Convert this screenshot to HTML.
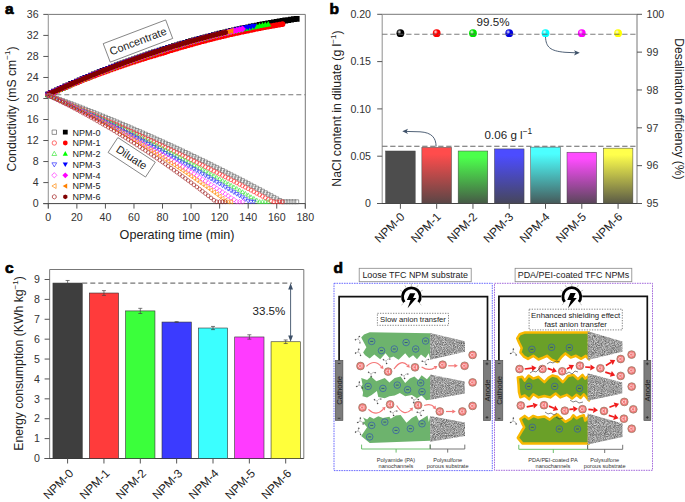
<!DOCTYPE html>
<html><head><meta charset="utf-8"><style>
html,body{margin:0;padding:0;background:#fff;width:685px;height:502px;overflow:hidden}
svg{display:block}
text{font-family:"Liberation Sans", sans-serif}
</style></head><body>
<svg width="685" height="502" viewBox="0 0 685 502">
<rect width="685" height="502" fill="#fff"/>
<text x="5" y="14.2" font-size="15.5" font-weight="bold" fill="#000" stroke="#000" stroke-width="0.7">a</text>
<path d="M48.3,14.4H305.3V208.6" fill="none" stroke="#777" stroke-width="1"/>
<path d="M48.3,14.4V208.6" fill="none" stroke="#999" stroke-width="1.1"/>
<path d="M43.3,203.6H305.3" fill="none" stroke="#444" stroke-width="1"/>
<path d="M43.3,203.60H48.3" stroke="#555" stroke-width="1"/>
<text x="38.6" y="207.30" font-size="10.6" text-anchor="end" fill="#333">0</text>
<path d="M43.3,182.58H48.3" stroke="#555" stroke-width="1"/>
<text x="38.6" y="186.28" font-size="10.6" text-anchor="end" fill="#333">4</text>
<path d="M43.3,161.56H48.3" stroke="#555" stroke-width="1"/>
<text x="38.6" y="165.26" font-size="10.6" text-anchor="end" fill="#333">8</text>
<path d="M43.3,140.53H48.3" stroke="#555" stroke-width="1"/>
<text x="38.6" y="144.23" font-size="10.6" text-anchor="end" fill="#333">12</text>
<path d="M43.3,119.51H48.3" stroke="#555" stroke-width="1"/>
<text x="38.6" y="123.21" font-size="10.6" text-anchor="end" fill="#333">16</text>
<path d="M43.3,98.49H48.3" stroke="#555" stroke-width="1"/>
<text x="38.6" y="102.19" font-size="10.6" text-anchor="end" fill="#333">20</text>
<path d="M43.3,77.47H48.3" stroke="#555" stroke-width="1"/>
<text x="38.6" y="81.17" font-size="10.6" text-anchor="end" fill="#333">24</text>
<path d="M43.3,56.44H48.3" stroke="#555" stroke-width="1"/>
<text x="38.6" y="60.14" font-size="10.6" text-anchor="end" fill="#333">28</text>
<path d="M43.3,35.42H48.3" stroke="#555" stroke-width="1"/>
<text x="38.6" y="39.12" font-size="10.6" text-anchor="end" fill="#333">32</text>
<path d="M43.3,14.40H48.3" stroke="#555" stroke-width="1"/>
<text x="38.6" y="18.10" font-size="10.6" text-anchor="end" fill="#333">36</text>
<path d="M48.30,203.6V208.6" stroke="#555" stroke-width="1"/>
<text x="48.30" y="221" font-size="10.6" text-anchor="middle" fill="#333">0</text>
<path d="M76.86,203.6V208.6" stroke="#555" stroke-width="1"/>
<text x="76.86" y="221" font-size="10.6" text-anchor="middle" fill="#333">20</text>
<path d="M105.41,203.6V208.6" stroke="#555" stroke-width="1"/>
<text x="105.41" y="221" font-size="10.6" text-anchor="middle" fill="#333">40</text>
<path d="M133.97,203.6V208.6" stroke="#555" stroke-width="1"/>
<text x="133.97" y="221" font-size="10.6" text-anchor="middle" fill="#333">60</text>
<path d="M162.52,203.6V208.6" stroke="#555" stroke-width="1"/>
<text x="162.52" y="221" font-size="10.6" text-anchor="middle" fill="#333">80</text>
<path d="M191.08,203.6V208.6" stroke="#555" stroke-width="1"/>
<text x="191.08" y="221" font-size="10.6" text-anchor="middle" fill="#333">100</text>
<path d="M219.63,203.6V208.6" stroke="#555" stroke-width="1"/>
<text x="219.63" y="221" font-size="10.6" text-anchor="middle" fill="#333">120</text>
<path d="M248.19,203.6V208.6" stroke="#555" stroke-width="1"/>
<text x="248.19" y="221" font-size="10.6" text-anchor="middle" fill="#333">140</text>
<path d="M276.74,203.6V208.6" stroke="#555" stroke-width="1"/>
<text x="276.74" y="221" font-size="10.6" text-anchor="middle" fill="#333">160</text>
<path d="M305.30,203.6V208.6" stroke="#555" stroke-width="1"/>
<text x="305.30" y="221" font-size="10.6" text-anchor="middle" fill="#333">180</text>
<text x="177" y="238.5" font-size="12.6" text-anchor="middle" fill="#222">Operating time (min)</text>
<text transform="translate(15.5,109) rotate(-90)" font-size="12.2" text-anchor="middle" fill="#222">Conductivity (mS cm<tspan font-size="8" dy="-5.2">&#8722;1</tspan><tspan dy="5.2">)</tspan></text>
<path d="M48.3,94.75H305.3" stroke="#777" stroke-width="1.2" stroke-dasharray="5,3"/>
<path d="M45.4,91.4h5.8v5.8h-5.8zM48.3,90.1h5.8v5.8h-5.8zM51.1,88.8h5.8v5.8h-5.8zM54.0,87.5h5.8v5.8h-5.8zM56.8,86.2h5.8v5.8h-5.8zM59.7,84.9h5.8v5.8h-5.8zM62.5,83.6h5.8v5.8h-5.8zM65.4,82.4h5.8v5.8h-5.8zM68.2,81.1h5.8v5.8h-5.8zM71.1,79.9h5.8v5.8h-5.8zM74.0,78.7h5.8v5.8h-5.8zM76.8,77.5h5.8v5.8h-5.8zM79.7,76.3h5.8v5.8h-5.8zM82.5,75.1h5.8v5.8h-5.8zM85.4,73.9h5.8v5.8h-5.8zM88.2,72.7h5.8v5.8h-5.8zM91.1,71.6h5.8v5.8h-5.8zM93.9,70.4h5.8v5.8h-5.8zM96.8,69.3h5.8v5.8h-5.8zM99.7,68.1h5.8v5.8h-5.8zM102.5,67.0h5.8v5.8h-5.8zM105.4,65.9h5.8v5.8h-5.8zM108.2,64.8h5.8v5.8h-5.8zM111.1,63.7h5.8v5.8h-5.8zM113.9,62.6h5.8v5.8h-5.8zM116.8,61.6h5.8v5.8h-5.8zM119.6,60.5h5.8v5.8h-5.8zM122.5,59.5h5.8v5.8h-5.8zM125.4,58.4h5.8v5.8h-5.8zM128.2,57.4h5.8v5.8h-5.8zM131.1,56.4h5.8v5.8h-5.8zM133.9,55.4h5.8v5.8h-5.8zM136.8,54.4h5.8v5.8h-5.8zM139.6,53.4h5.8v5.8h-5.8zM142.5,52.4h5.8v5.8h-5.8zM145.3,51.5h5.8v5.8h-5.8zM148.2,50.5h5.8v5.8h-5.8zM151.1,49.6h5.8v5.8h-5.8zM153.9,48.7h5.8v5.8h-5.8zM156.8,47.7h5.8v5.8h-5.8zM159.6,46.8h5.8v5.8h-5.8zM162.5,45.9h5.8v5.8h-5.8zM165.3,45.0h5.8v5.8h-5.8zM168.2,44.2h5.8v5.8h-5.8zM171.0,43.3h5.8v5.8h-5.8zM173.9,42.4h5.8v5.8h-5.8zM176.8,41.6h5.8v5.8h-5.8zM179.6,40.8h5.8v5.8h-5.8zM182.5,39.9h5.8v5.8h-5.8zM185.3,39.1h5.8v5.8h-5.8zM188.2,38.3h5.8v5.8h-5.8zM191.0,37.5h5.8v5.8h-5.8zM193.9,36.7h5.8v5.8h-5.8zM196.7,36.0h5.8v5.8h-5.8zM199.6,35.2h5.8v5.8h-5.8zM202.5,34.4h5.8v5.8h-5.8zM205.3,33.7h5.8v5.8h-5.8zM208.2,33.0h5.8v5.8h-5.8zM211.0,32.2h5.8v5.8h-5.8zM213.9,31.5h5.8v5.8h-5.8zM216.7,30.8h5.8v5.8h-5.8zM219.6,30.1h5.8v5.8h-5.8zM222.4,29.5h5.8v5.8h-5.8zM225.3,28.8h5.8v5.8h-5.8zM228.2,28.1h5.8v5.8h-5.8zM231.0,27.5h5.8v5.8h-5.8zM233.9,26.8h5.8v5.8h-5.8zM236.7,26.2h5.8v5.8h-5.8zM239.6,25.6h5.8v5.8h-5.8zM242.4,25.0h5.8v5.8h-5.8zM245.3,24.4h5.8v5.8h-5.8zM248.1,23.8h5.8v5.8h-5.8zM251.0,23.2h5.8v5.8h-5.8zM253.9,22.7h5.8v5.8h-5.8zM256.7,22.1h5.8v5.8h-5.8zM259.6,21.6h5.8v5.8h-5.8zM262.4,21.0h5.8v5.8h-5.8zM265.3,20.5h5.8v5.8h-5.8zM268.1,20.0h5.8v5.8h-5.8zM271.0,19.5h5.8v5.8h-5.8zM273.8,19.0h5.8v5.8h-5.8zM276.7,18.5h5.8v5.8h-5.8zM279.6,18.1h5.8v5.8h-5.8zM282.4,17.6h5.8v5.8h-5.8zM285.3,17.2h5.8v5.8h-5.8zM288.1,16.7h5.8v5.8h-5.8zM291.0,16.3h5.8v5.8h-5.8zM293.8,15.9h5.8v5.8h-5.8z" fill="#000000"/>
<path d="M45.4,94.3a2.9,2.9 0 1,0 5.8,0a2.9,2.9 0 1,0 -5.8,0zM48.3,93.0a2.9,2.9 0 1,0 5.8,0a2.9,2.9 0 1,0 -5.8,0zM51.1,91.8a2.9,2.9 0 1,0 5.8,0a2.9,2.9 0 1,0 -5.8,0zM54.0,90.6a2.9,2.9 0 1,0 5.8,0a2.9,2.9 0 1,0 -5.8,0zM56.8,89.4a2.9,2.9 0 1,0 5.8,0a2.9,2.9 0 1,0 -5.8,0zM59.7,88.2a2.9,2.9 0 1,0 5.8,0a2.9,2.9 0 1,0 -5.8,0zM62.5,87.0a2.9,2.9 0 1,0 5.8,0a2.9,2.9 0 1,0 -5.8,0zM65.4,85.8a2.9,2.9 0 1,0 5.8,0a2.9,2.9 0 1,0 -5.8,0zM68.2,84.7a2.9,2.9 0 1,0 5.8,0a2.9,2.9 0 1,0 -5.8,0zM71.1,83.5a2.9,2.9 0 1,0 5.8,0a2.9,2.9 0 1,0 -5.8,0zM74.0,82.4a2.9,2.9 0 1,0 5.8,0a2.9,2.9 0 1,0 -5.8,0zM76.8,81.2a2.9,2.9 0 1,0 5.8,0a2.9,2.9 0 1,0 -5.8,0zM79.7,80.1a2.9,2.9 0 1,0 5.8,0a2.9,2.9 0 1,0 -5.8,0zM82.5,79.0a2.9,2.9 0 1,0 5.8,0a2.9,2.9 0 1,0 -5.8,0zM85.4,77.9a2.9,2.9 0 1,0 5.8,0a2.9,2.9 0 1,0 -5.8,0zM88.2,76.8a2.9,2.9 0 1,0 5.8,0a2.9,2.9 0 1,0 -5.8,0zM91.1,75.7a2.9,2.9 0 1,0 5.8,0a2.9,2.9 0 1,0 -5.8,0zM93.9,74.6a2.9,2.9 0 1,0 5.8,0a2.9,2.9 0 1,0 -5.8,0zM96.8,73.6a2.9,2.9 0 1,0 5.8,0a2.9,2.9 0 1,0 -5.8,0zM99.7,72.5a2.9,2.9 0 1,0 5.8,0a2.9,2.9 0 1,0 -5.8,0zM102.5,71.5a2.9,2.9 0 1,0 5.8,0a2.9,2.9 0 1,0 -5.8,0zM105.4,70.5a2.9,2.9 0 1,0 5.8,0a2.9,2.9 0 1,0 -5.8,0zM108.2,69.4a2.9,2.9 0 1,0 5.8,0a2.9,2.9 0 1,0 -5.8,0zM111.1,68.4a2.9,2.9 0 1,0 5.8,0a2.9,2.9 0 1,0 -5.8,0zM113.9,67.4a2.9,2.9 0 1,0 5.8,0a2.9,2.9 0 1,0 -5.8,0zM116.8,66.4a2.9,2.9 0 1,0 5.8,0a2.9,2.9 0 1,0 -5.8,0zM119.6,65.5a2.9,2.9 0 1,0 5.8,0a2.9,2.9 0 1,0 -5.8,0zM122.5,64.5a2.9,2.9 0 1,0 5.8,0a2.9,2.9 0 1,0 -5.8,0zM125.4,63.5a2.9,2.9 0 1,0 5.8,0a2.9,2.9 0 1,0 -5.8,0zM128.2,62.6a2.9,2.9 0 1,0 5.8,0a2.9,2.9 0 1,0 -5.8,0zM131.1,61.7a2.9,2.9 0 1,0 5.8,0a2.9,2.9 0 1,0 -5.8,0zM133.9,60.7a2.9,2.9 0 1,0 5.8,0a2.9,2.9 0 1,0 -5.8,0zM136.8,59.8a2.9,2.9 0 1,0 5.8,0a2.9,2.9 0 1,0 -5.8,0zM139.6,58.9a2.9,2.9 0 1,0 5.8,0a2.9,2.9 0 1,0 -5.8,0zM142.5,58.0a2.9,2.9 0 1,0 5.8,0a2.9,2.9 0 1,0 -5.8,0zM145.3,57.1a2.9,2.9 0 1,0 5.8,0a2.9,2.9 0 1,0 -5.8,0zM148.2,56.3a2.9,2.9 0 1,0 5.8,0a2.9,2.9 0 1,0 -5.8,0zM151.1,55.4a2.9,2.9 0 1,0 5.8,0a2.9,2.9 0 1,0 -5.8,0zM153.9,54.6a2.9,2.9 0 1,0 5.8,0a2.9,2.9 0 1,0 -5.8,0zM156.8,53.7a2.9,2.9 0 1,0 5.8,0a2.9,2.9 0 1,0 -5.8,0zM159.6,52.9a2.9,2.9 0 1,0 5.8,0a2.9,2.9 0 1,0 -5.8,0zM162.5,52.0a2.9,2.9 0 1,0 5.8,0a2.9,2.9 0 1,0 -5.8,0zM165.3,51.1a2.9,2.9 0 1,0 5.8,0a2.9,2.9 0 1,0 -5.8,0zM168.2,50.2a2.9,2.9 0 1,0 5.8,0a2.9,2.9 0 1,0 -5.8,0zM171.0,49.3a2.9,2.9 0 1,0 5.8,0a2.9,2.9 0 1,0 -5.8,0zM173.9,48.5a2.9,2.9 0 1,0 5.8,0a2.9,2.9 0 1,0 -5.8,0zM176.8,47.6a2.9,2.9 0 1,0 5.8,0a2.9,2.9 0 1,0 -5.8,0zM179.6,46.8a2.9,2.9 0 1,0 5.8,0a2.9,2.9 0 1,0 -5.8,0zM182.5,46.0a2.9,2.9 0 1,0 5.8,0a2.9,2.9 0 1,0 -5.8,0zM185.3,45.2a2.9,2.9 0 1,0 5.8,0a2.9,2.9 0 1,0 -5.8,0zM188.2,44.4a2.9,2.9 0 1,0 5.8,0a2.9,2.9 0 1,0 -5.8,0zM191.0,43.6a2.9,2.9 0 1,0 5.8,0a2.9,2.9 0 1,0 -5.8,0zM193.9,42.8a2.9,2.9 0 1,0 5.8,0a2.9,2.9 0 1,0 -5.8,0zM196.7,42.0a2.9,2.9 0 1,0 5.8,0a2.9,2.9 0 1,0 -5.8,0zM199.6,41.2a2.9,2.9 0 1,0 5.8,0a2.9,2.9 0 1,0 -5.8,0zM202.5,40.5a2.9,2.9 0 1,0 5.8,0a2.9,2.9 0 1,0 -5.8,0zM205.3,39.7a2.9,2.9 0 1,0 5.8,0a2.9,2.9 0 1,0 -5.8,0zM208.2,39.0a2.9,2.9 0 1,0 5.8,0a2.9,2.9 0 1,0 -5.8,0zM211.0,38.3a2.9,2.9 0 1,0 5.8,0a2.9,2.9 0 1,0 -5.8,0zM213.9,37.6a2.9,2.9 0 1,0 5.8,0a2.9,2.9 0 1,0 -5.8,0zM216.7,36.9a2.9,2.9 0 1,0 5.8,0a2.9,2.9 0 1,0 -5.8,0zM219.6,36.2a2.9,2.9 0 1,0 5.8,0a2.9,2.9 0 1,0 -5.8,0zM222.4,35.5a2.9,2.9 0 1,0 5.8,0a2.9,2.9 0 1,0 -5.8,0zM225.3,34.8a2.9,2.9 0 1,0 5.8,0a2.9,2.9 0 1,0 -5.8,0zM228.2,34.2a2.9,2.9 0 1,0 5.8,0a2.9,2.9 0 1,0 -5.8,0zM231.0,33.5a2.9,2.9 0 1,0 5.8,0a2.9,2.9 0 1,0 -5.8,0zM233.9,32.9a2.9,2.9 0 1,0 5.8,0a2.9,2.9 0 1,0 -5.8,0zM236.7,32.3a2.9,2.9 0 1,0 5.8,0a2.9,2.9 0 1,0 -5.8,0zM239.6,31.7a2.9,2.9 0 1,0 5.8,0a2.9,2.9 0 1,0 -5.8,0zM242.4,31.0a2.9,2.9 0 1,0 5.8,0a2.9,2.9 0 1,0 -5.8,0zM245.3,30.5a2.9,2.9 0 1,0 5.8,0a2.9,2.9 0 1,0 -5.8,0zM248.1,29.9a2.9,2.9 0 1,0 5.8,0a2.9,2.9 0 1,0 -5.8,0zM251.0,29.3a2.9,2.9 0 1,0 5.8,0a2.9,2.9 0 1,0 -5.8,0zM253.9,28.7a2.9,2.9 0 1,0 5.8,0a2.9,2.9 0 1,0 -5.8,0zM256.7,28.2a2.9,2.9 0 1,0 5.8,0a2.9,2.9 0 1,0 -5.8,0zM259.6,27.6a2.9,2.9 0 1,0 5.8,0a2.9,2.9 0 1,0 -5.8,0zM262.4,27.1a2.9,2.9 0 1,0 5.8,0a2.9,2.9 0 1,0 -5.8,0zM265.3,26.6a2.9,2.9 0 1,0 5.8,0a2.9,2.9 0 1,0 -5.8,0zM268.1,26.1a2.9,2.9 0 1,0 5.8,0a2.9,2.9 0 1,0 -5.8,0zM271.0,25.6a2.9,2.9 0 1,0 5.8,0a2.9,2.9 0 1,0 -5.8,0zM273.8,25.1a2.9,2.9 0 1,0 5.8,0a2.9,2.9 0 1,0 -5.8,0zM276.7,24.6a2.9,2.9 0 1,0 5.8,0a2.9,2.9 0 1,0 -5.8,0zM279.6,24.1a2.9,2.9 0 1,0 5.8,0a2.9,2.9 0 1,0 -5.8,0z" fill="#ff0000"/>
<path d="M48.3,91.1L51.5,96.6H45.1zM51.2,89.8L54.3,95.3H48.0zM54.0,88.5L57.2,94.0H50.8zM56.9,87.2L60.1,92.7H53.7zM59.7,86.0L62.9,91.5H56.5zM62.6,84.7L65.8,90.2H59.4zM65.4,83.5L68.6,89.0H62.2zM68.3,82.2L71.5,87.7H65.1zM71.1,81.0L74.3,86.5H68.0zM74.0,79.8L77.2,85.3H70.8zM76.9,78.6L80.0,84.1H73.7zM79.7,77.4L82.9,82.9H76.5zM82.6,76.2L85.8,81.7H79.4zM85.4,75.0L88.6,80.5H82.2zM88.3,73.9L91.5,79.4H85.1zM91.1,72.7L94.3,78.2H87.9zM94.0,71.6L97.2,77.1H90.8zM96.8,70.4L100.0,76.0H93.7zM99.7,69.3L102.9,74.8H96.5zM102.6,68.2L105.7,73.7H99.4zM105.4,67.1L108.6,72.6H102.2zM108.3,66.0L111.5,71.5H105.1zM111.1,64.9L114.3,70.5H107.9zM114.0,63.9L117.2,69.4H110.8zM116.8,62.8L120.0,68.3H113.6zM119.7,61.8L122.9,67.3H116.5zM122.5,60.7L125.7,66.2H119.4zM125.4,59.7L128.6,65.2H122.2zM128.3,58.7L131.4,64.2H125.1zM131.1,57.7L134.3,63.2H127.9zM134.0,56.7L137.2,62.2H130.8zM136.8,55.7L140.0,61.2H133.6zM139.7,54.7L142.9,60.2H136.5zM142.5,53.8L145.7,59.3H139.3zM145.4,52.8L148.6,58.3H142.2zM148.2,51.9L151.4,57.4H145.1zM151.1,50.9L154.3,56.5H147.9zM154.0,50.0L157.1,55.5H150.8zM156.8,49.1L160.0,54.6H153.6zM159.7,48.2L162.9,53.7H156.5zM162.5,47.3L165.7,52.8H159.3zM165.4,46.4L168.6,51.9H162.2zM168.2,45.5L171.4,51.0H165.0zM171.1,44.7L174.3,50.2H167.9zM173.9,43.8L177.1,49.3H170.8zM176.8,42.9L180.0,48.4H173.6zM179.7,42.1L182.8,47.6H176.5zM182.5,41.2L185.7,46.8H179.3zM185.4,40.4L188.6,45.9H182.2zM188.2,39.6L191.4,45.1H185.0zM191.1,38.8L194.3,44.3H187.9zM193.9,38.0L197.1,43.5H190.7zM196.8,37.2L200.0,42.7H193.6zM199.6,36.4L202.8,42.0H196.5zM202.5,35.7L205.7,41.2H199.3zM205.4,34.9L208.5,40.4H202.2zM208.2,34.2L211.4,39.7H205.0zM211.1,33.5L214.3,39.0H207.9zM213.9,32.7L217.1,38.2H210.7zM216.8,32.0L220.0,37.5H213.6zM219.6,31.3L222.8,36.8H216.4zM222.5,30.6L225.7,36.1H219.3zM225.3,30.0L228.5,35.5H222.2zM228.2,29.3L231.4,34.8H225.0zM231.1,28.6L234.2,34.1H227.9zM233.9,28.0L237.1,33.5H230.7zM236.8,27.3L240.0,32.9H233.6zM239.6,26.7L242.8,32.2H236.4zM242.5,26.1L245.7,31.6H239.3zM245.3,25.5L248.5,31.0H242.1zM248.2,24.9L251.4,30.4H245.0zM251.0,24.3L254.2,29.8H247.9zM253.9,23.7L257.1,29.2H250.7zM256.8,23.2L259.9,28.7H253.6zM259.6,22.6L262.8,28.1H256.4zM262.5,22.1L265.7,27.6H259.3zM265.3,21.5L268.5,27.1H262.1zM268.2,21.0L271.4,26.5H265.0z" fill="#00ff00"/>
<path d="M48.3,97.5L51.5,92.0H45.1zM51.2,96.2L54.3,90.6H48.0zM54.0,94.8L57.2,89.3H50.8zM56.9,93.6L60.1,88.0H53.7zM59.7,92.3L62.9,86.8H56.5zM62.6,91.0L65.8,85.5H59.4zM65.4,89.7L68.6,84.2H62.2zM68.3,88.5L71.5,83.0H65.1zM71.1,87.2L74.3,81.7H68.0zM74.0,86.0L77.2,80.5H70.8zM76.9,84.8L80.0,79.3H73.7zM79.7,83.6L82.9,78.0H76.5zM82.6,82.3L85.8,76.8H79.4zM85.4,81.2L88.6,75.6H82.2zM88.3,80.0L91.5,74.5H85.1zM91.1,78.8L94.3,73.3H87.9zM94.0,77.6L97.2,72.1H90.8zM96.8,76.5L100.0,71.0H93.7zM99.7,75.4L102.9,69.8H96.5zM102.6,74.2L105.7,68.7H99.4zM105.4,73.1L108.6,67.6H102.2zM108.3,72.0L111.5,66.5H105.1zM111.1,70.9L114.3,65.4H107.9zM114.0,69.8L117.2,64.3H110.8zM116.8,68.7L120.0,63.2H113.6zM119.7,67.7L122.9,62.2H116.5zM122.5,66.6L125.7,61.1H119.4zM125.4,65.6L128.6,60.0H122.2zM128.3,64.5L131.4,59.0H125.1zM131.1,63.5L134.3,58.0H127.9zM134.0,62.5L137.2,57.0H130.8zM136.8,61.5L140.0,56.0H133.6zM139.7,60.5L142.9,55.0H136.5zM142.5,59.5L145.7,54.0H139.3zM145.4,58.5L148.6,53.0H142.2zM148.2,57.6L151.4,52.1H145.1zM151.1,56.6L154.3,51.1H147.9zM154.0,55.7L157.1,50.2H150.8zM156.8,54.7L160.0,49.2H153.6zM159.7,53.8L162.9,48.3H156.5zM162.5,52.9L165.7,47.4H159.3zM165.4,52.0L168.6,46.5H162.2zM168.2,51.1L171.4,45.6H165.0zM171.1,50.2L174.3,44.7H167.9zM173.9,49.4L177.1,43.9H170.8zM176.8,48.5L180.0,43.0H173.6zM179.7,47.7L182.8,42.2H176.5zM182.5,46.8L185.7,41.3H179.3zM185.4,46.0L188.6,40.5H182.2zM188.2,45.2L191.4,39.7H185.0zM191.1,44.4L194.3,38.9H187.9zM193.9,43.6L197.1,38.1H190.7zM196.8,42.8L200.0,37.3H193.6zM199.6,42.0L202.8,36.5H196.5zM202.5,41.3L205.7,35.8H199.3zM205.4,40.5L208.5,35.0H202.2zM208.2,39.8L211.4,34.3H205.0zM211.1,39.1L214.3,33.5H207.9zM213.9,38.3L217.1,32.8H210.7zM216.8,37.6L220.0,32.1H213.6zM219.6,36.9L222.8,31.4H216.4zM222.5,36.2L225.7,30.7H219.3zM225.3,35.5L228.5,30.0H222.2zM228.2,34.9L231.4,29.4H225.0zM231.1,34.2L234.2,28.7H227.9zM233.9,33.6L237.1,28.1H230.7zM236.8,32.9L240.0,27.4H233.6zM239.6,32.3L242.8,26.8H236.4zM242.5,31.7L245.7,26.2H239.3zM245.3,31.1L248.5,25.6H242.1zM248.2,30.5L251.4,25.0H245.0zM251.0,29.9L254.2,24.4H247.9zM253.9,29.3L257.1,23.8H250.7z" fill="#0000ff"/>
<path d="M48.3,90.8L51.8,94.3L48.3,97.8L44.8,94.3zM51.2,89.5L54.6,93.0L51.2,96.5L47.7,93.0zM54.0,88.2L57.5,91.7L54.0,95.2L50.5,91.7zM56.9,86.9L60.3,90.4L56.9,93.9L53.4,90.4zM59.7,85.6L63.2,89.1L59.7,92.6L56.2,89.1zM62.6,84.4L66.1,87.9L62.6,91.3L59.1,87.9zM65.4,83.1L68.9,86.6L65.4,90.1L62.0,86.6zM68.3,81.9L71.8,85.4L68.3,88.8L64.8,85.4zM71.1,80.7L74.6,84.1L71.1,87.6L67.7,84.1zM74.0,79.4L77.5,82.9L74.0,86.4L70.5,82.9zM76.9,78.2L80.3,81.7L76.9,85.2L73.4,81.7zM79.7,77.0L83.2,80.5L79.7,84.0L76.2,80.5zM82.6,75.8L86.0,79.3L82.6,82.8L79.1,79.3zM85.4,74.7L88.9,78.1L85.4,81.6L81.9,78.1zM88.3,73.5L91.8,77.0L88.3,80.4L84.8,77.0zM91.1,72.3L94.6,75.8L91.1,79.3L87.7,75.8zM94.0,71.2L97.5,74.7L94.0,78.1L90.5,74.7zM96.8,70.0L100.3,73.5L96.8,77.0L93.4,73.5zM99.7,68.9L103.2,72.4L99.7,75.9L96.2,72.4zM102.6,67.8L106.0,71.3L102.6,74.8L99.1,71.3zM105.4,66.7L108.9,70.2L105.4,73.7L101.9,70.2zM108.3,65.6L111.7,69.1L108.3,72.6L104.8,69.1zM111.1,64.5L114.6,68.0L111.1,71.5L107.6,68.0zM114.0,63.4L117.5,66.9L114.0,70.4L110.5,66.9zM116.8,62.4L120.3,65.9L116.8,69.3L113.4,65.9zM119.7,61.3L123.2,64.8L119.7,68.3L116.2,64.8zM122.5,60.3L126.0,63.8L122.5,67.2L119.1,63.8zM125.4,59.2L128.9,62.7L125.4,66.2L121.9,62.7zM128.3,58.2L131.7,61.7L128.3,65.2L124.8,61.7zM131.1,57.2L134.6,60.7L131.1,64.2L127.6,60.7zM134.0,56.2L137.4,59.7L134.0,63.2L130.5,59.7zM136.8,55.2L140.3,58.7L136.8,62.2L133.3,58.7zM139.7,54.2L143.2,57.7L139.7,61.2L136.2,57.7zM142.5,53.3L146.0,56.7L142.5,60.2L139.1,56.7zM145.4,52.3L148.9,55.8L145.4,59.3L141.9,55.8zM148.2,51.4L151.7,54.8L148.2,58.3L144.8,54.8zM151.1,50.4L154.6,53.9L151.1,57.4L147.6,53.9zM154.0,49.5L157.4,53.0L154.0,56.5L150.5,53.0zM156.8,48.6L160.3,52.1L156.8,55.5L153.3,52.1zM159.7,47.7L163.1,51.1L159.7,54.6L156.2,51.1zM162.5,46.8L166.0,50.3L162.5,53.7L159.0,50.3zM165.4,45.9L168.9,49.4L165.4,52.8L161.9,49.4zM168.2,45.0L171.7,48.5L168.2,51.9L164.8,48.5zM171.1,44.1L174.6,47.6L171.1,51.1L167.6,47.6zM173.9,43.2L177.4,46.7L173.9,50.2L170.5,46.7zM176.8,42.4L180.3,45.9L176.8,49.3L173.3,45.9zM179.7,41.5L183.1,45.0L179.7,48.5L176.2,45.0zM182.5,40.7L186.0,44.2L182.5,47.7L179.0,44.2zM185.4,39.9L188.8,43.3L185.4,46.8L181.9,43.3zM188.2,39.1L191.7,42.5L188.2,46.0L184.7,42.5zM191.1,38.2L194.6,41.7L191.1,45.2L187.6,41.7zM193.9,37.5L197.4,40.9L193.9,44.4L190.5,40.9zM196.8,36.7L200.3,40.2L196.8,43.6L193.3,40.2zM199.6,35.9L203.1,39.4L199.6,42.9L196.2,39.4zM202.5,35.1L206.0,38.6L202.5,42.1L199.0,38.6zM205.4,34.4L208.8,37.9L205.4,41.3L201.9,37.9zM208.2,33.6L211.7,37.1L208.2,40.6L204.7,37.1zM211.1,32.9L214.5,36.4L211.1,39.9L207.6,36.4zM213.9,32.2L217.4,35.7L213.9,39.1L210.4,35.7zM216.8,31.5L220.3,35.0L216.8,38.4L213.3,35.0zM219.6,30.8L223.1,34.3L219.6,37.7L216.2,34.3zM222.5,30.1L226.0,33.6L222.5,37.0L219.0,33.6zM225.3,29.4L228.8,32.9L225.3,36.4L221.9,32.9zM228.2,28.7L231.7,32.2L228.2,35.7L224.7,32.2zM231.1,28.1L234.5,31.6L231.1,35.0L227.6,31.6zM233.9,27.4L237.4,30.9L233.9,34.4L230.4,30.9zM236.8,26.8L240.2,30.3L236.8,33.8L233.3,30.3zM239.6,26.2L243.1,29.6L239.6,33.1L236.1,29.6zM242.5,25.5L246.0,29.0L242.5,32.5L239.0,29.0z" fill="#ff00ff"/>
<path d="M45.1,94.3L50.6,91.1V97.5zM48.0,93.0L53.5,89.8V96.2zM50.8,91.7L56.3,88.5V94.8zM53.7,90.4L59.2,87.2V93.6zM56.5,89.1L62.0,85.9V92.3zM59.4,87.8L64.9,84.6V91.0zM62.2,86.5L67.8,83.3V89.7zM65.1,85.3L70.6,82.1V88.5zM68.0,84.0L73.5,80.8V87.2zM70.8,82.8L76.3,79.6V86.0zM73.7,81.6L79.2,78.4V84.8zM76.5,80.4L82.0,77.2V83.6zM79.4,79.2L84.9,76.0V82.3zM82.2,78.0L87.7,74.8V81.2zM85.1,76.8L90.6,73.6V80.0zM87.9,75.6L93.5,72.4V78.8zM90.8,74.5L96.3,71.3V77.6zM93.7,73.3L99.2,70.1V76.5zM96.5,72.2L102.0,69.0V75.4zM99.4,71.0L104.9,67.8V74.2zM102.2,69.9L107.7,66.7V73.1zM105.1,68.8L110.6,65.6V72.0zM107.9,67.7L113.4,64.5V70.9zM110.8,66.6L116.3,63.4V69.8zM113.6,65.5L119.2,62.3V68.7zM116.5,64.5L122.0,61.3V67.7zM119.4,63.4L124.9,60.2V66.6zM122.2,62.4L127.7,59.2V65.6zM125.1,61.3L130.6,58.1V64.5zM127.9,60.3L133.4,57.1V63.5zM130.8,59.3L136.3,56.1V62.5zM133.6,58.3L139.1,55.1V61.5zM136.5,57.3L142.0,54.1V60.5zM139.3,56.3L144.9,53.1V59.5zM142.2,55.3L147.7,52.2V58.5zM145.1,54.4L150.6,51.2V57.6zM147.9,53.4L153.4,50.2V56.6zM150.8,52.5L156.3,49.3V55.7zM153.6,51.6L159.1,48.4V54.7zM156.5,50.6L162.0,47.4V53.8zM159.3,49.7L164.8,46.5V52.9zM162.2,48.8L167.7,45.6V52.0zM165.0,47.9L170.6,44.7V51.1zM167.9,47.1L173.4,43.9V50.2zM170.8,46.2L176.3,43.0V49.4zM173.6,45.3L179.1,42.1V48.5zM176.5,44.5L182.0,41.3V47.7zM179.3,43.7L184.8,40.5V46.8zM182.2,42.8L187.7,39.6V46.0zM185.0,42.0L190.5,38.8V45.2zM187.9,41.2L193.4,38.0V44.4zM190.7,40.4L196.3,37.2V43.6zM193.6,39.6L199.1,36.4V42.8zM196.5,38.9L202.0,35.7V42.0zM199.3,38.1L204.8,34.9V41.3zM202.2,37.3L207.7,34.1V40.5zM205.0,36.6L210.5,33.4V39.8zM207.9,35.9L213.4,32.7V39.1zM210.7,35.1L216.2,31.9V38.3zM213.6,34.4L219.1,31.2V37.6zM216.4,33.7L222.0,30.5V36.9zM219.3,33.0L224.8,29.8V36.2zM222.2,32.4L227.7,29.2V35.5zM225.0,31.7L230.5,28.5V34.9zM227.9,31.0L233.4,27.8V34.2z" fill="#ff8000"/>
<path d="M50.8,95.7L48.3,97.2L45.8,95.7L45.8,92.8L48.3,91.4L50.8,92.8zM53.7,94.4L51.2,95.9L48.6,94.4L48.6,91.5L51.2,90.1L53.7,91.5zM56.5,93.1L54.0,94.6L51.5,93.1L51.5,90.2L54.0,88.8L56.5,90.2zM59.4,91.8L56.9,93.3L54.4,91.8L54.4,88.9L56.9,87.5L59.4,88.9zM62.2,90.5L59.7,92.0L57.2,90.5L57.2,87.6L59.7,86.2L62.2,87.6zM65.1,89.2L62.6,90.7L60.1,89.2L60.1,86.3L62.6,84.9L65.1,86.3zM67.9,88.0L65.4,89.4L62.9,88.0L62.9,85.1L65.4,83.6L67.9,85.1zM70.8,86.7L68.3,88.2L65.8,86.7L65.8,83.8L68.3,82.4L70.8,83.8zM73.7,85.5L71.1,86.9L68.6,85.5L68.6,82.6L71.1,81.1L73.7,82.6zM76.5,84.2L74.0,85.7L71.5,84.2L71.5,81.3L74.0,79.9L76.5,81.3zM79.4,83.0L76.9,84.5L74.3,83.0L74.3,80.1L76.9,78.7L79.4,80.1zM82.2,81.8L79.7,83.3L77.2,81.8L77.2,78.9L79.7,77.5L82.2,78.9zM85.1,80.6L82.6,82.1L80.1,80.6L80.1,77.7L82.6,76.3L85.1,77.7zM87.9,79.4L85.4,80.9L82.9,79.4L82.9,76.5L85.4,75.1L87.9,76.5zM90.8,78.2L88.3,79.7L85.8,78.2L85.8,75.3L88.3,73.9L90.8,75.3zM93.6,77.1L91.1,78.5L88.6,77.1L88.6,74.2L91.1,72.7L93.6,74.2zM96.5,75.9L94.0,77.4L91.5,75.9L91.5,73.0L94.0,71.6L96.5,73.0zM99.4,74.8L96.8,76.2L94.3,74.8L94.3,71.9L96.8,70.4L99.4,71.9zM102.2,73.6L99.7,75.1L97.2,73.6L97.2,70.7L99.7,69.3L102.2,70.7zM105.1,72.5L102.6,73.9L100.0,72.5L100.0,69.6L102.6,68.1L105.1,69.6zM107.9,71.4L105.4,72.8L102.9,71.4L102.9,68.5L105.4,67.0L107.9,68.5zM110.8,70.3L108.3,71.7L105.8,70.3L105.8,67.4L108.3,65.9L110.8,67.4zM113.6,69.2L111.1,70.6L108.6,69.2L108.6,66.3L111.1,64.8L113.6,66.3zM116.5,68.1L114.0,69.5L111.5,68.1L111.5,65.2L114.0,63.7L116.5,65.2zM119.3,67.0L116.8,68.4L114.3,67.0L114.3,64.1L116.8,62.6L119.3,64.1zM122.2,65.9L119.7,67.4L117.2,65.9L117.2,63.0L119.7,61.6L122.2,63.0zM125.1,64.9L122.5,66.3L120.0,64.9L120.0,62.0L122.5,60.5L125.1,62.0zM127.9,63.8L125.4,65.3L122.9,63.8L122.9,60.9L125.4,59.5L127.9,60.9zM130.8,62.8L128.3,64.2L125.7,62.8L125.7,59.9L128.3,58.4L130.8,59.9zM133.6,61.8L131.1,63.2L128.6,61.8L128.6,58.9L131.1,57.4L133.6,58.9zM136.5,60.7L134.0,62.2L131.5,60.7L131.5,57.8L134.0,56.4L136.5,57.8zM139.3,59.7L136.8,61.2L134.3,59.7L134.3,56.8L136.8,55.4L139.3,56.8zM142.2,58.7L139.7,60.2L137.2,58.7L137.2,55.8L139.7,54.4L142.2,55.8zM145.0,57.8L142.5,59.2L140.0,57.8L140.0,54.9L142.5,53.4L145.0,54.9zM147.9,56.8L145.4,58.2L142.9,56.8L142.9,53.9L145.4,52.4L147.9,53.9zM150.8,55.8L148.2,57.3L145.7,55.8L145.7,52.9L148.2,51.5L150.8,52.9zM153.6,54.9L151.1,56.3L148.6,54.9L148.6,52.0L151.1,50.5L153.6,52.0zM156.5,53.9L154.0,55.4L151.4,53.9L151.4,51.0L154.0,49.6L156.5,51.0zM159.3,53.0L156.8,54.5L154.3,53.0L154.3,50.1L156.8,48.7L159.3,50.1zM162.2,52.1L159.7,53.5L157.2,52.1L157.2,49.2L159.7,47.7L162.2,49.2zM165.0,51.2L162.5,52.6L160.0,51.2L160.0,48.3L162.5,46.8L165.0,48.3zM167.9,50.3L165.4,51.7L162.9,50.3L162.9,47.4L165.4,45.9L167.9,47.4zM170.7,49.4L168.2,50.8L165.7,49.4L165.7,46.5L168.2,45.0L170.7,46.5zM173.6,48.5L171.1,50.0L168.6,48.5L168.6,45.6L171.1,44.2L173.6,45.6zM176.5,47.6L173.9,49.1L171.4,47.6L171.4,44.7L173.9,43.3L176.5,44.7zM179.3,46.8L176.8,48.2L174.3,46.8L174.3,43.9L176.8,42.4L179.3,43.9zM182.2,45.9L179.7,47.4L177.1,45.9L177.1,43.0L179.7,41.6L182.2,43.0zM185.0,45.1L182.5,46.6L180.0,45.1L180.0,42.2L182.5,40.8L185.0,42.2zM187.9,44.3L185.4,45.7L182.9,44.3L182.9,41.4L185.4,39.9L187.9,41.4zM190.7,43.5L188.2,44.9L185.7,43.5L185.7,40.6L188.2,39.1L190.7,40.6zM193.6,42.7L191.1,44.1L188.6,42.7L188.6,39.8L191.1,38.3L193.6,39.8zM196.4,41.9L193.9,43.3L191.4,41.9L191.4,39.0L193.9,37.5L196.4,39.0zM199.3,41.1L196.8,42.5L194.3,41.1L194.3,38.2L196.8,36.7L199.3,38.2zM202.2,40.3L199.6,41.8L197.1,40.3L197.1,37.4L199.6,36.0L202.2,37.4zM205.0,39.5L202.5,41.0L200.0,39.5L200.0,36.6L202.5,35.2L205.0,36.6zM207.9,38.8L205.4,40.2L202.8,38.8L202.8,35.9L205.4,34.4L207.9,35.9zM210.7,38.0L208.2,39.5L205.7,38.0L205.7,35.1L208.2,33.7L210.7,35.1zM213.6,37.3L211.1,38.8L208.6,37.3L208.6,34.4L211.1,33.0L213.6,34.4zM216.4,36.6L213.9,38.0L211.4,36.6L211.4,33.7L213.9,32.2L216.4,33.7zM219.3,35.9L216.8,37.3L214.3,35.9L214.3,33.0L216.8,31.5L219.3,33.0zM222.1,35.2L219.6,36.6L217.1,35.2L217.1,32.3L219.6,30.8L222.1,32.3zM225.0,34.5L222.5,35.9L220.0,34.5L220.0,31.6L222.5,30.1L225.0,31.6zM227.9,33.8L225.3,35.3L222.8,33.8L222.8,30.9L225.3,29.5L227.9,30.9z" fill="#800000"/>
<path d="M46.3,93.4h3.9v3.9h-3.9zM49.2,94.4h3.9v3.9h-3.9zM52.1,95.5h3.9v3.9h-3.9zM54.9,96.5h3.9v3.9h-3.9zM57.8,97.6h3.9v3.9h-3.9zM60.6,98.6h3.9v3.9h-3.9zM63.5,99.7h3.9v3.9h-3.9zM66.3,100.8h3.9v3.9h-3.9zM69.2,101.8h3.9v3.9h-3.9zM72.0,102.9h3.9v3.9h-3.9zM74.9,104.0h3.9v3.9h-3.9zM77.8,105.1h3.9v3.9h-3.9zM80.6,106.2h3.9v3.9h-3.9zM83.5,107.3h3.9v3.9h-3.9zM86.3,108.5h3.9v3.9h-3.9zM89.2,109.6h3.9v3.9h-3.9zM92.0,110.7h3.9v3.9h-3.9zM94.9,111.9h3.9v3.9h-3.9zM97.7,113.0h3.9v3.9h-3.9zM100.6,114.2h3.9v3.9h-3.9zM103.5,115.3h3.9v3.9h-3.9zM106.3,116.5h3.9v3.9h-3.9zM109.2,117.7h3.9v3.9h-3.9zM112.0,118.8h3.9v3.9h-3.9zM114.9,120.0h3.9v3.9h-3.9zM117.7,121.2h3.9v3.9h-3.9zM120.6,122.4h3.9v3.9h-3.9zM123.4,123.6h3.9v3.9h-3.9zM126.3,124.8h3.9v3.9h-3.9zM129.2,126.0h3.9v3.9h-3.9zM132.0,127.3h3.9v3.9h-3.9zM134.9,128.5h3.9v3.9h-3.9zM137.7,129.7h3.9v3.9h-3.9zM140.6,131.0h3.9v3.9h-3.9zM143.4,132.2h3.9v3.9h-3.9zM146.3,133.5h3.9v3.9h-3.9zM149.2,134.8h3.9v3.9h-3.9zM152.0,136.0h3.9v3.9h-3.9zM154.9,137.3h3.9v3.9h-3.9zM157.7,138.6h3.9v3.9h-3.9zM160.6,139.9h3.9v3.9h-3.9zM163.4,141.2h3.9v3.9h-3.9zM166.3,142.5h3.9v3.9h-3.9zM169.1,143.8h3.9v3.9h-3.9zM172.0,145.1h3.9v3.9h-3.9zM174.9,146.4h3.9v3.9h-3.9zM177.7,147.8h3.9v3.9h-3.9zM180.6,149.1h3.9v3.9h-3.9zM183.4,150.5h3.9v3.9h-3.9zM186.3,151.8h3.9v3.9h-3.9zM189.1,153.2h3.9v3.9h-3.9zM192.0,154.5h3.9v3.9h-3.9zM194.8,155.9h3.9v3.9h-3.9zM197.7,157.3h3.9v3.9h-3.9zM200.6,158.7h3.9v3.9h-3.9zM203.4,160.0h3.9v3.9h-3.9zM206.3,161.4h3.9v3.9h-3.9zM209.1,162.8h3.9v3.9h-3.9zM212.0,164.3h3.9v3.9h-3.9zM214.8,165.7h3.9v3.9h-3.9zM217.7,167.1h3.9v3.9h-3.9zM220.5,168.5h3.9v3.9h-3.9zM223.4,170.0h3.9v3.9h-3.9zM226.2,171.4h3.9v3.9h-3.9zM229.1,172.9h3.9v3.9h-3.9zM232.0,174.3h3.9v3.9h-3.9zM234.8,175.8h3.9v3.9h-3.9zM237.7,177.2h3.9v3.9h-3.9zM240.5,178.7h3.9v3.9h-3.9zM243.4,180.2h3.9v3.9h-3.9zM246.2,181.7h3.9v3.9h-3.9zM249.1,183.2h3.9v3.9h-3.9zM251.9,184.7h3.9v3.9h-3.9zM254.8,186.2h3.9v3.9h-3.9zM257.7,187.7h3.9v3.9h-3.9zM260.5,189.2h3.9v3.9h-3.9zM263.4,190.8h3.9v3.9h-3.9zM266.2,192.3h3.9v3.9h-3.9zM269.1,193.8h3.9v3.9h-3.9zM271.9,195.4h3.9v3.9h-3.9zM274.8,196.9h3.9v3.9h-3.9zM277.7,198.5h3.9v3.9h-3.9zM280.5,199.8h3.9v3.9h-3.9zM283.4,199.8h3.9v3.9h-3.9zM286.2,199.8h3.9v3.9h-3.9zM289.1,199.8h3.9v3.9h-3.9zM291.9,199.8h3.9v3.9h-3.9zM294.8,199.8h3.9v3.9h-3.9z" fill="none" stroke="#666666" stroke-width="0.65"/>
<path d="M46.3,95.3a1.9,1.9 0 1,0 3.9,0a1.9,1.9 0 1,0 -3.9,0zM49.2,96.5a1.9,1.9 0 1,0 3.9,0a1.9,1.9 0 1,0 -3.9,0zM52.1,97.7a1.9,1.9 0 1,0 3.9,0a1.9,1.9 0 1,0 -3.9,0zM54.9,98.9a1.9,1.9 0 1,0 3.9,0a1.9,1.9 0 1,0 -3.9,0zM57.8,100.0a1.9,1.9 0 1,0 3.9,0a1.9,1.9 0 1,0 -3.9,0zM60.6,101.2a1.9,1.9 0 1,0 3.9,0a1.9,1.9 0 1,0 -3.9,0zM63.5,102.4a1.9,1.9 0 1,0 3.9,0a1.9,1.9 0 1,0 -3.9,0zM66.3,103.6a1.9,1.9 0 1,0 3.9,0a1.9,1.9 0 1,0 -3.9,0zM69.2,104.8a1.9,1.9 0 1,0 3.9,0a1.9,1.9 0 1,0 -3.9,0zM72.0,106.0a1.9,1.9 0 1,0 3.9,0a1.9,1.9 0 1,0 -3.9,0zM74.9,107.2a1.9,1.9 0 1,0 3.9,0a1.9,1.9 0 1,0 -3.9,0zM77.8,108.5a1.9,1.9 0 1,0 3.9,0a1.9,1.9 0 1,0 -3.9,0zM80.6,109.7a1.9,1.9 0 1,0 3.9,0a1.9,1.9 0 1,0 -3.9,0zM83.5,110.9a1.9,1.9 0 1,0 3.9,0a1.9,1.9 0 1,0 -3.9,0zM86.3,112.1a1.9,1.9 0 1,0 3.9,0a1.9,1.9 0 1,0 -3.9,0zM89.2,113.4a1.9,1.9 0 1,0 3.9,0a1.9,1.9 0 1,0 -3.9,0zM92.0,114.6a1.9,1.9 0 1,0 3.9,0a1.9,1.9 0 1,0 -3.9,0zM94.9,115.9a1.9,1.9 0 1,0 3.9,0a1.9,1.9 0 1,0 -3.9,0zM97.7,117.1a1.9,1.9 0 1,0 3.9,0a1.9,1.9 0 1,0 -3.9,0zM100.6,118.4a1.9,1.9 0 1,0 3.9,0a1.9,1.9 0 1,0 -3.9,0zM103.5,119.6a1.9,1.9 0 1,0 3.9,0a1.9,1.9 0 1,0 -3.9,0zM106.3,120.9a1.9,1.9 0 1,0 3.9,0a1.9,1.9 0 1,0 -3.9,0zM109.2,122.2a1.9,1.9 0 1,0 3.9,0a1.9,1.9 0 1,0 -3.9,0zM112.0,123.4a1.9,1.9 0 1,0 3.9,0a1.9,1.9 0 1,0 -3.9,0zM114.9,124.7a1.9,1.9 0 1,0 3.9,0a1.9,1.9 0 1,0 -3.9,0zM117.7,126.0a1.9,1.9 0 1,0 3.9,0a1.9,1.9 0 1,0 -3.9,0zM120.6,127.3a1.9,1.9 0 1,0 3.9,0a1.9,1.9 0 1,0 -3.9,0zM123.4,128.6a1.9,1.9 0 1,0 3.9,0a1.9,1.9 0 1,0 -3.9,0zM126.3,129.9a1.9,1.9 0 1,0 3.9,0a1.9,1.9 0 1,0 -3.9,0zM129.2,131.2a1.9,1.9 0 1,0 3.9,0a1.9,1.9 0 1,0 -3.9,0zM132.0,132.5a1.9,1.9 0 1,0 3.9,0a1.9,1.9 0 1,0 -3.9,0zM134.9,133.8a1.9,1.9 0 1,0 3.9,0a1.9,1.9 0 1,0 -3.9,0zM137.7,135.1a1.9,1.9 0 1,0 3.9,0a1.9,1.9 0 1,0 -3.9,0zM140.6,136.5a1.9,1.9 0 1,0 3.9,0a1.9,1.9 0 1,0 -3.9,0zM143.4,137.8a1.9,1.9 0 1,0 3.9,0a1.9,1.9 0 1,0 -3.9,0zM146.3,139.1a1.9,1.9 0 1,0 3.9,0a1.9,1.9 0 1,0 -3.9,0zM149.2,140.5a1.9,1.9 0 1,0 3.9,0a1.9,1.9 0 1,0 -3.9,0zM152.0,141.8a1.9,1.9 0 1,0 3.9,0a1.9,1.9 0 1,0 -3.9,0zM154.9,143.1a1.9,1.9 0 1,0 3.9,0a1.9,1.9 0 1,0 -3.9,0zM157.7,144.5a1.9,1.9 0 1,0 3.9,0a1.9,1.9 0 1,0 -3.9,0zM160.6,145.8a1.9,1.9 0 1,0 3.9,0a1.9,1.9 0 1,0 -3.9,0zM163.4,147.2a1.9,1.9 0 1,0 3.9,0a1.9,1.9 0 1,0 -3.9,0zM166.3,148.6a1.9,1.9 0 1,0 3.9,0a1.9,1.9 0 1,0 -3.9,0zM169.1,149.9a1.9,1.9 0 1,0 3.9,0a1.9,1.9 0 1,0 -3.9,0zM172.0,151.3a1.9,1.9 0 1,0 3.9,0a1.9,1.9 0 1,0 -3.9,0zM174.9,152.7a1.9,1.9 0 1,0 3.9,0a1.9,1.9 0 1,0 -3.9,0zM177.7,154.1a1.9,1.9 0 1,0 3.9,0a1.9,1.9 0 1,0 -3.9,0zM180.6,155.5a1.9,1.9 0 1,0 3.9,0a1.9,1.9 0 1,0 -3.9,0zM183.4,156.9a1.9,1.9 0 1,0 3.9,0a1.9,1.9 0 1,0 -3.9,0zM186.3,158.3a1.9,1.9 0 1,0 3.9,0a1.9,1.9 0 1,0 -3.9,0zM189.1,159.7a1.9,1.9 0 1,0 3.9,0a1.9,1.9 0 1,0 -3.9,0zM192.0,161.1a1.9,1.9 0 1,0 3.9,0a1.9,1.9 0 1,0 -3.9,0zM194.8,162.5a1.9,1.9 0 1,0 3.9,0a1.9,1.9 0 1,0 -3.9,0zM197.7,163.9a1.9,1.9 0 1,0 3.9,0a1.9,1.9 0 1,0 -3.9,0zM200.6,165.3a1.9,1.9 0 1,0 3.9,0a1.9,1.9 0 1,0 -3.9,0zM203.4,166.8a1.9,1.9 0 1,0 3.9,0a1.9,1.9 0 1,0 -3.9,0zM206.3,168.2a1.9,1.9 0 1,0 3.9,0a1.9,1.9 0 1,0 -3.9,0zM209.1,169.6a1.9,1.9 0 1,0 3.9,0a1.9,1.9 0 1,0 -3.9,0zM212.0,171.1a1.9,1.9 0 1,0 3.9,0a1.9,1.9 0 1,0 -3.9,0zM214.8,172.5a1.9,1.9 0 1,0 3.9,0a1.9,1.9 0 1,0 -3.9,0zM217.7,174.0a1.9,1.9 0 1,0 3.9,0a1.9,1.9 0 1,0 -3.9,0zM220.5,175.4a1.9,1.9 0 1,0 3.9,0a1.9,1.9 0 1,0 -3.9,0zM223.4,176.9a1.9,1.9 0 1,0 3.9,0a1.9,1.9 0 1,0 -3.9,0zM226.2,178.3a1.9,1.9 0 1,0 3.9,0a1.9,1.9 0 1,0 -3.9,0zM229.1,179.8a1.9,1.9 0 1,0 3.9,0a1.9,1.9 0 1,0 -3.9,0zM232.0,181.3a1.9,1.9 0 1,0 3.9,0a1.9,1.9 0 1,0 -3.9,0zM234.8,182.8a1.9,1.9 0 1,0 3.9,0a1.9,1.9 0 1,0 -3.9,0zM237.7,184.3a1.9,1.9 0 1,0 3.9,0a1.9,1.9 0 1,0 -3.9,0zM240.5,185.7a1.9,1.9 0 1,0 3.9,0a1.9,1.9 0 1,0 -3.9,0zM243.4,187.2a1.9,1.9 0 1,0 3.9,0a1.9,1.9 0 1,0 -3.9,0zM246.2,188.7a1.9,1.9 0 1,0 3.9,0a1.9,1.9 0 1,0 -3.9,0zM249.1,190.2a1.9,1.9 0 1,0 3.9,0a1.9,1.9 0 1,0 -3.9,0zM251.9,191.7a1.9,1.9 0 1,0 3.9,0a1.9,1.9 0 1,0 -3.9,0zM254.8,193.3a1.9,1.9 0 1,0 3.9,0a1.9,1.9 0 1,0 -3.9,0zM257.7,194.8a1.9,1.9 0 1,0 3.9,0a1.9,1.9 0 1,0 -3.9,0zM260.5,196.3a1.9,1.9 0 1,0 3.9,0a1.9,1.9 0 1,0 -3.9,0zM263.4,197.8a1.9,1.9 0 1,0 3.9,0a1.9,1.9 0 1,0 -3.9,0zM266.2,199.4a1.9,1.9 0 1,0 3.9,0a1.9,1.9 0 1,0 -3.9,0zM269.1,200.9a1.9,1.9 0 1,0 3.9,0a1.9,1.9 0 1,0 -3.9,0zM271.9,201.8a1.9,1.9 0 1,0 3.9,0a1.9,1.9 0 1,0 -3.9,0zM274.8,201.8a1.9,1.9 0 1,0 3.9,0a1.9,1.9 0 1,0 -3.9,0zM277.7,201.8a1.9,1.9 0 1,0 3.9,0a1.9,1.9 0 1,0 -3.9,0zM280.5,201.8a1.9,1.9 0 1,0 3.9,0a1.9,1.9 0 1,0 -3.9,0z" fill="none" stroke="#ff3030" stroke-width="0.65"/>
<path d="M48.3,93.2L50.4,96.9H46.2zM51.2,94.4L53.3,98.1H49.0zM54.0,95.6L56.2,99.3H51.9zM56.9,96.8L59.0,100.5H54.7zM59.7,98.0L61.9,101.7H57.6zM62.6,99.3L64.7,103.0H60.4zM65.4,100.5L67.6,104.2H63.3zM68.3,101.7L70.4,105.4H66.1zM71.1,103.0L73.3,106.7H69.0zM74.0,104.2L76.1,107.9H71.9zM76.9,105.5L79.0,109.2H74.7zM79.7,106.8L81.9,110.5H77.6zM82.6,108.0L84.7,111.7H80.4zM85.4,109.3L87.6,113.0H83.3zM88.3,110.6L90.4,114.3H86.1zM91.1,111.9L93.3,115.6H89.0zM94.0,113.2L96.1,116.9H91.8zM96.8,114.5L99.0,118.2H94.7zM99.7,115.8L101.8,119.5H97.6zM102.6,117.1L104.7,120.8H100.4zM105.4,118.5L107.6,122.2H103.3zM108.3,119.8L110.4,123.5H106.1zM111.1,121.1L113.3,124.8H109.0zM114.0,122.5L116.1,126.2H111.8zM116.8,123.8L119.0,127.5H114.7zM119.7,125.2L121.8,128.9H117.5zM122.5,126.6L124.7,130.3H120.4zM125.4,127.9L127.5,131.6H123.3zM128.3,129.3L130.4,133.0H126.1zM131.1,130.7L133.3,134.4H129.0zM134.0,132.1L136.1,135.8H131.8zM136.8,133.5L139.0,137.2H134.7zM139.7,134.9L141.8,138.6H137.5zM142.5,136.3L144.7,140.0H140.4zM145.4,137.7L147.5,141.4H143.2zM148.2,139.1L150.4,142.8H146.1zM151.1,140.6L153.2,144.3H149.0zM154.0,142.0L156.1,145.7H151.8zM156.8,143.4L159.0,147.1H154.7zM159.7,144.9L161.8,148.6H157.5zM162.5,146.4L164.7,150.1H160.4zM165.4,147.8L167.5,151.5H163.2zM168.2,149.3L170.4,153.0H166.1zM171.1,150.8L173.2,154.5H168.9zM173.9,152.2L176.1,155.9H171.8zM176.8,153.7L178.9,157.4H174.7zM179.7,155.2L181.8,158.9H177.5zM182.5,156.7L184.7,160.4H180.4zM185.4,158.2L187.5,161.9H183.2zM188.2,159.8L190.4,163.5H186.1zM191.1,161.3L193.2,165.0H188.9zM193.9,162.8L196.1,166.5H191.8zM196.8,164.3L198.9,168.0H194.6zM199.6,165.9L201.8,169.6H197.5zM202.5,167.4L204.6,171.1H200.4zM205.4,169.0L207.5,172.7H203.2zM208.2,170.5L210.4,174.3H206.1zM211.1,172.1L213.2,175.8H208.9zM213.9,173.7L216.1,177.4H211.8zM216.8,175.3L218.9,179.0H214.6zM219.6,176.9L221.8,180.6H217.5zM222.5,178.5L224.6,182.2H220.3zM225.3,180.1L227.5,183.8H223.2zM228.2,181.7L230.3,185.4H226.1zM231.1,183.3L233.2,187.0H228.9zM233.9,184.9L236.1,188.6H231.8zM236.8,186.5L238.9,190.2H234.6zM239.6,188.2L241.8,191.9H237.5zM242.5,189.8L244.6,193.5H240.3zM245.3,191.4L247.5,195.1H243.2zM248.2,193.1L250.3,196.8H246.0zM251.0,194.8L253.2,198.5H248.9zM253.9,196.4L256.0,200.1H251.8zM256.8,198.1L258.9,201.8H254.6zM259.6,199.6L261.8,203.3H257.5zM262.5,199.6L264.6,203.3H260.3zM265.3,199.6L267.5,203.3H263.2zM268.2,199.6L270.3,203.3H266.0z" fill="none" stroke="#40e840" stroke-width="0.65"/>
<path d="M48.3,97.5L50.4,93.8H46.2zM51.2,98.8L53.3,95.1H49.0zM54.0,100.0L56.2,96.3H51.9zM56.9,101.3L59.0,97.6H54.7zM59.7,102.6L61.9,98.9H57.6zM62.6,103.9L64.7,100.2H60.4zM65.4,105.2L67.6,101.5H63.3zM68.3,106.6L70.4,102.8H66.1zM71.1,107.9L73.3,104.2H69.0zM74.0,109.2L76.1,105.5H71.9zM76.9,110.5L79.0,106.8H74.7zM79.7,111.9L81.9,108.2H77.6zM82.6,113.2L84.7,109.5H80.4zM85.4,114.6L87.6,110.9H83.3zM88.3,116.0L90.4,112.2H86.1zM91.1,117.3L93.3,113.6H89.0zM94.0,118.7L96.1,115.0H91.8zM96.8,120.1L99.0,116.4H94.7zM99.7,121.5L101.8,117.8H97.6zM102.6,122.9L104.7,119.2H100.4zM105.4,124.3L107.6,120.6H103.3zM108.3,125.7L110.4,122.0H106.1zM111.1,127.1L113.3,123.4H109.0zM114.0,128.5L116.1,124.8H111.8zM116.8,130.0L119.0,126.3H114.7zM119.7,131.4L121.8,127.7H117.5zM122.5,132.8L124.7,129.1H120.4zM125.4,134.3L127.5,130.6H123.3zM128.3,135.8L130.4,132.0H126.1zM131.1,137.2L133.3,133.5H129.0zM134.0,138.7L136.1,135.0H131.8zM136.8,140.2L139.0,136.5H134.7zM139.7,141.7L141.8,137.9H137.5zM142.5,143.1L144.7,139.4H140.4zM145.4,144.6L147.5,140.9H143.2zM148.2,146.1L150.4,142.4H146.1zM151.1,147.7L153.2,144.0H149.0zM154.0,149.2L156.1,145.5H151.8zM156.8,150.7L159.0,147.0H154.7zM159.7,152.2L161.8,148.5H157.5zM162.5,153.8L164.7,150.1H160.4zM165.4,155.3L167.5,151.6H163.2zM168.2,156.9L170.4,153.2H166.1zM171.1,158.4L173.2,154.7H168.9zM173.9,160.0L176.1,156.3H171.8zM176.8,161.6L178.9,157.9H174.7zM179.7,163.2L181.8,159.5H177.5zM182.5,164.7L184.7,161.0H180.4zM185.4,166.3L187.5,162.6H183.2zM188.2,167.9L190.4,164.2H186.1zM191.1,169.5L193.2,165.8H188.9zM193.9,171.2L196.1,167.5H191.8zM196.8,172.8L198.9,169.1H194.6zM199.6,174.4L201.8,170.7H197.5zM202.5,176.0L204.6,172.3H200.4zM205.4,177.7L207.5,174.0H203.2zM208.2,179.3L210.4,175.6H206.1zM211.1,181.0L213.2,177.3H208.9zM213.9,182.7L216.1,178.9H211.8zM216.8,184.3L218.9,180.6H214.6zM219.6,186.0L221.8,182.3H217.5zM222.5,187.7L224.6,184.0H220.3zM225.3,189.4L227.5,185.7H223.2zM228.2,191.1L230.3,187.4H226.1zM231.1,192.8L233.2,189.1H228.9zM233.9,194.5L236.1,190.8H231.8zM236.8,196.2L238.9,192.5H234.6zM239.6,197.9L241.8,194.2H237.5zM242.5,199.6L244.6,195.9H240.3zM245.3,201.4L247.5,197.7H243.2zM248.2,203.1L250.3,199.4H246.0zM251.0,203.9L253.2,200.2H248.9zM253.9,203.9L256.0,200.2H251.8z" fill="none" stroke="#3030ff" stroke-width="0.65"/>
<path d="M48.3,93.0L50.6,95.3L48.3,97.7L46.0,95.3zM51.2,94.3L53.5,96.6L51.2,99.0L48.8,96.6zM54.0,95.6L56.4,97.9L54.0,100.3L51.7,97.9zM56.9,96.9L59.2,99.3L56.9,101.6L54.5,99.3zM59.7,98.2L62.1,100.6L59.7,102.9L57.4,100.6zM62.6,99.6L64.9,101.9L62.6,104.3L60.2,101.9zM65.4,100.9L67.8,103.3L65.4,105.6L63.1,103.3zM68.3,102.3L70.6,104.6L68.3,107.0L65.9,104.6zM71.1,103.6L73.5,106.0L71.1,108.3L68.8,106.0zM74.0,105.0L76.3,107.4L74.0,109.7L71.7,107.4zM76.9,106.4L79.2,108.7L76.9,111.1L74.5,108.7zM79.7,107.8L82.1,110.1L79.7,112.5L77.4,110.1zM82.6,109.2L84.9,111.5L82.6,113.9L80.2,111.5zM85.4,110.6L87.8,113.0L85.4,115.3L83.1,113.0zM88.3,112.0L90.6,114.4L88.3,116.7L85.9,114.4zM91.1,113.5L93.5,115.8L91.1,118.2L88.8,115.8zM94.0,114.9L96.3,117.3L94.0,119.6L91.6,117.3zM96.8,116.4L99.2,118.7L96.8,121.0L94.5,118.7zM99.7,117.8L102.0,120.2L99.7,122.5L97.4,120.2zM102.6,119.3L104.9,121.6L102.6,124.0L100.2,121.6zM105.4,120.8L107.8,123.1L105.4,125.5L103.1,123.1zM108.3,122.3L110.6,124.6L108.3,126.9L105.9,124.6zM111.1,123.8L113.5,126.1L111.1,128.4L108.8,126.1zM114.0,125.3L116.3,127.6L114.0,130.0L111.6,127.6zM116.8,126.8L119.2,129.1L116.8,131.5L114.5,129.1zM119.7,128.3L122.0,130.7L119.7,133.0L117.3,130.7zM122.5,129.9L124.9,132.2L122.5,134.5L120.2,132.2zM125.4,131.4L127.7,133.8L125.4,136.1L123.1,133.8zM128.3,133.0L130.6,135.3L128.3,137.7L125.9,135.3zM131.1,134.5L133.5,136.9L131.1,139.2L128.8,136.9zM134.0,136.1L136.3,138.5L134.0,140.8L131.6,138.5zM136.8,137.7L139.2,140.0L136.8,142.4L134.5,140.0zM139.7,139.3L142.0,141.6L139.7,144.0L137.3,141.6zM142.5,140.9L144.9,143.2L142.5,145.6L140.2,143.2zM145.4,142.5L147.7,144.9L145.4,147.2L143.0,144.9zM148.2,144.1L150.6,146.5L148.2,148.8L145.9,146.5zM151.1,145.8L153.4,148.1L151.1,150.5L148.8,148.1zM154.0,147.4L156.3,149.8L154.0,152.1L151.6,149.8zM156.8,149.1L159.2,151.4L156.8,153.8L154.5,151.4zM159.7,150.7L162.0,153.1L159.7,155.4L157.3,153.1zM162.5,152.4L164.9,154.8L162.5,157.1L160.2,154.8zM165.4,154.1L167.7,156.4L165.4,158.8L163.0,156.4zM168.2,155.8L170.6,158.1L168.2,160.5L165.9,158.1zM171.1,157.5L173.4,159.8L171.1,162.2L168.7,159.8zM173.9,159.2L176.3,161.6L173.9,163.9L171.6,161.6zM176.8,160.9L179.1,163.3L176.8,165.6L174.5,163.3zM179.7,162.7L182.0,165.0L179.7,167.3L177.3,165.0zM182.5,164.4L184.9,166.7L182.5,169.1L180.2,166.7zM185.4,166.2L187.7,168.5L185.4,170.8L183.0,168.5zM188.2,167.9L190.6,170.3L188.2,172.6L185.9,170.3zM191.1,169.7L193.4,172.0L191.1,174.4L188.7,172.0zM193.9,171.5L196.3,173.8L193.9,176.1L191.6,173.8zM196.8,173.3L199.1,175.6L196.8,177.9L194.4,175.6zM199.6,175.1L202.0,177.4L199.6,179.7L197.3,177.4zM202.5,176.9L204.8,179.2L202.5,181.5L200.2,179.2zM205.4,178.7L207.7,181.0L205.4,183.4L203.0,181.0zM208.2,180.5L210.6,182.9L208.2,185.2L205.9,182.9zM211.1,182.4L213.4,184.7L211.1,187.0L208.7,184.7zM213.9,184.2L216.3,186.5L213.9,188.9L211.6,186.5zM216.8,186.1L219.1,188.4L216.8,190.7L214.4,188.4zM219.6,187.9L222.0,190.3L219.6,192.6L217.3,190.3zM222.5,189.8L224.8,192.1L222.5,194.5L220.1,192.1zM225.3,191.7L227.7,194.0L225.3,196.4L223.0,194.0zM228.2,193.6L230.5,195.9L228.2,198.3L225.9,195.9zM231.1,195.5L233.4,197.8L231.1,200.2L228.7,197.8zM233.9,197.4L236.3,199.7L233.9,202.1L231.6,199.7zM236.8,199.3L239.1,201.7L236.8,204.0L234.4,201.7zM239.6,199.4L242.0,201.8L239.6,204.1L237.3,201.8zM242.5,199.4L244.8,201.8L242.5,204.1L240.1,201.8z" fill="none" stroke="#ff30ff" stroke-width="0.65"/>
<path d="M46.2,95.3L49.9,93.2V97.5zM49.0,96.6L52.7,94.5V98.8zM51.9,98.0L55.6,95.8V100.1zM54.7,99.3L58.4,97.1V101.4zM57.6,100.6L61.3,98.5V102.8zM60.4,102.0L64.1,99.8V104.1zM63.3,103.3L67.0,101.2V105.5zM66.1,104.7L69.8,102.6V106.9zM69.0,106.1L72.7,104.0V108.3zM71.9,107.5L75.6,105.4V109.7zM74.7,108.9L78.4,106.8V111.1zM77.6,110.4L81.3,108.2V112.5zM80.4,111.8L84.1,109.7V114.0zM83.3,113.3L87.0,111.1V115.4zM86.1,114.7L89.8,112.6V116.9zM89.0,116.2L92.7,114.1V118.4zM91.8,117.7L95.5,115.6V119.9zM94.7,119.2L98.4,117.1V121.4zM97.6,120.7L101.3,118.6V122.9zM100.4,122.3L104.1,120.1V124.4zM103.3,123.8L107.0,121.7V126.0zM106.1,125.4L109.8,123.2V127.5zM109.0,127.0L112.7,124.8V129.1zM111.8,128.5L115.5,126.4V130.7zM114.7,130.1L118.4,128.0V132.3zM117.5,131.8L121.2,129.6V133.9zM120.4,133.4L124.1,131.2V135.5zM123.3,135.0L127.0,132.9V137.2zM126.1,136.7L129.8,134.5V138.8zM129.0,138.3L132.7,136.2V140.5zM131.8,140.0L135.5,137.9V142.2zM134.7,141.7L138.4,139.6V143.8zM137.5,143.4L141.2,141.3V145.5zM140.4,145.1L144.1,143.0V147.3zM143.2,146.8L146.9,144.7V149.0zM146.1,148.6L149.8,146.4V150.7zM149.0,150.3L152.7,148.2V152.5zM151.8,152.1L155.5,150.0V154.2zM154.7,153.9L158.4,151.7V156.0zM157.5,155.7L161.2,153.5V157.8zM160.4,157.5L164.1,155.3V159.6zM163.2,159.3L166.9,157.1V161.4zM166.1,161.1L169.8,159.0V163.3zM168.9,163.0L172.6,160.8V165.1zM171.8,164.8L175.5,162.7V167.0zM174.7,166.7L178.4,164.5V168.8zM177.5,168.6L181.2,166.4V170.7zM180.4,170.5L184.1,168.3V172.6zM183.2,172.4L186.9,170.2V174.5zM186.1,174.3L189.8,172.2V176.4zM188.9,176.2L192.6,174.1V178.4zM191.8,178.2L195.5,176.0V180.3zM194.6,180.1L198.3,178.0V182.3zM197.5,182.1L201.2,180.0V184.3zM200.4,184.1L204.1,182.0V186.2zM203.2,186.1L206.9,184.0V188.2zM206.1,188.1L209.8,186.0V190.3zM208.9,190.1L212.6,188.0V192.3zM211.8,192.2L215.5,190.0V194.3zM214.6,194.2L218.3,192.1V196.4zM217.5,196.3L221.2,194.1V198.4zM220.3,198.4L224.0,196.2V200.5zM223.2,200.4L226.9,198.3V202.6zM226.1,201.8L229.8,199.6V203.9zM228.9,201.8L232.6,199.6V203.9z" fill="none" stroke="#ff8c10" stroke-width="0.65"/>
<path d="M50.0,96.3L48.3,97.3L46.6,96.3L46.6,94.4L48.3,93.4L50.0,94.4zM52.8,97.7L51.2,98.7L49.5,97.7L49.5,95.7L51.2,94.8L52.8,95.7zM55.7,99.1L54.0,100.0L52.3,99.1L52.3,97.1L54.0,96.1L55.7,97.1zM58.6,100.5L56.9,101.4L55.2,100.5L55.2,98.5L56.9,97.5L58.6,98.5zM61.4,101.9L59.7,102.9L58.0,101.9L58.0,99.9L59.7,99.0L61.4,99.9zM64.3,103.3L62.6,104.3L60.9,103.3L60.9,101.4L62.6,100.4L64.3,101.4zM67.1,104.8L65.4,105.7L63.7,104.8L63.7,102.8L65.4,101.8L67.1,102.8zM70.0,106.2L68.3,107.2L66.6,106.2L66.6,104.3L68.3,103.3L70.0,104.3zM72.8,107.7L71.1,108.7L69.5,107.7L69.5,105.8L71.1,104.8L72.8,105.8zM75.7,109.2L74.0,110.2L72.3,109.2L72.3,107.3L74.0,106.3L75.7,107.3zM78.5,110.7L76.9,111.7L75.2,110.7L75.2,108.8L76.9,107.8L78.5,108.8zM81.4,112.2L79.7,113.2L78.0,112.2L78.0,110.3L79.7,109.3L81.4,110.3zM84.3,113.8L82.6,114.8L80.9,113.8L80.9,111.8L82.6,110.9L84.3,111.8zM87.1,115.3L85.4,116.3L83.7,115.3L83.7,113.4L85.4,112.4L87.1,113.4zM90.0,116.9L88.3,117.9L86.6,116.9L86.6,115.0L88.3,114.0L90.0,115.0zM92.8,118.5L91.1,119.5L89.4,118.5L89.4,116.6L91.1,115.6L92.8,116.6zM95.7,120.1L94.0,121.1L92.3,120.1L92.3,118.2L94.0,117.2L95.7,118.2zM98.5,121.7L96.8,122.7L95.2,121.7L95.2,119.8L96.8,118.8L98.5,119.8zM101.4,123.4L99.7,124.3L98.0,123.4L98.0,121.4L99.7,120.4L101.4,121.4zM104.2,125.0L102.6,126.0L100.9,125.0L100.9,123.0L102.6,122.1L104.2,123.0zM107.1,126.7L105.4,127.6L103.7,126.7L103.7,124.7L105.4,123.7L107.1,124.7zM110.0,128.3L108.3,129.3L106.6,128.3L106.6,126.4L108.3,125.4L110.0,126.4zM112.8,130.0L111.1,131.0L109.4,130.0L109.4,128.1L111.1,127.1L112.8,128.1zM115.7,131.7L114.0,132.7L112.3,131.7L112.3,129.8L114.0,128.8L115.7,129.8zM118.5,133.5L116.8,134.4L115.1,133.5L115.1,131.5L116.8,130.5L118.5,131.5zM121.4,135.2L119.7,136.2L118.0,135.2L118.0,133.3L119.7,132.3L121.4,133.3zM124.2,137.0L122.5,137.9L120.9,137.0L120.9,135.0L122.5,134.0L124.2,135.0zM127.1,138.7L125.4,139.7L123.7,138.7L123.7,136.8L125.4,135.8L127.1,136.8zM129.9,140.5L128.3,141.5L126.6,140.5L126.6,138.6L128.3,137.6L129.9,138.6zM132.8,142.3L131.1,143.3L129.4,142.3L129.4,140.4L131.1,139.4L132.8,140.4zM135.7,144.1L134.0,145.1L132.3,144.1L132.3,142.2L134.0,141.2L135.7,142.2zM138.5,146.0L136.8,146.9L135.1,146.0L135.1,144.0L136.8,143.0L138.5,144.0zM141.4,147.8L139.7,148.8L138.0,147.8L138.0,145.9L139.7,144.9L141.4,145.9zM144.2,149.7L142.5,150.6L140.8,149.7L140.8,147.7L142.5,146.7L144.2,147.7zM147.1,151.5L145.4,152.5L143.7,151.5L143.7,149.6L145.4,148.6L147.1,149.6zM149.9,153.4L148.2,154.4L146.6,153.4L146.6,151.5L148.2,150.5L149.9,151.5zM152.8,155.3L151.1,156.3L149.4,155.3L149.4,153.4L151.1,152.4L152.8,153.4zM155.6,157.3L154.0,158.2L152.3,157.3L152.3,155.3L154.0,154.3L155.6,155.3zM158.5,159.2L156.8,160.2L155.1,159.2L155.1,157.3L156.8,156.3L158.5,157.3zM161.4,161.2L159.7,162.1L158.0,161.2L158.0,159.2L159.7,158.2L161.4,159.2zM164.2,163.1L162.5,164.1L160.8,163.1L160.8,161.2L162.5,160.2L164.2,161.2zM167.1,165.1L165.4,166.1L163.7,165.1L163.7,163.2L165.4,162.2L167.1,163.2zM169.9,167.1L168.2,168.1L166.5,167.1L166.5,165.2L168.2,164.2L169.9,165.2zM172.8,169.1L171.1,170.1L169.4,169.1L169.4,167.2L171.1,166.2L172.8,167.2zM175.6,171.2L173.9,172.1L172.3,171.2L172.3,169.2L173.9,168.2L175.6,169.2zM178.5,173.2L176.8,174.2L175.1,173.2L175.1,171.3L176.8,170.3L178.5,171.3zM181.3,175.3L179.7,176.2L178.0,175.3L178.0,173.3L179.7,172.3L181.3,173.3zM184.2,177.3L182.5,178.3L180.8,177.3L180.8,175.4L182.5,174.4L184.2,175.4zM187.1,179.4L185.4,180.4L183.7,179.4L183.7,177.5L185.4,176.5L187.1,177.5zM189.9,181.5L188.2,182.5L186.5,181.5L186.5,179.6L188.2,178.6L189.9,179.6zM192.8,183.7L191.1,184.6L189.4,183.7L189.4,181.7L191.1,180.7L192.8,181.7zM195.6,185.8L193.9,186.8L192.2,185.8L192.2,183.8L193.9,182.9L195.6,183.8zM198.5,187.9L196.8,188.9L195.1,187.9L195.1,186.0L196.8,185.0L198.5,186.0zM201.3,190.1L199.6,191.1L198.0,190.1L198.0,188.2L199.6,187.2L201.3,188.2zM204.2,192.3L202.5,193.3L200.8,192.3L200.8,190.3L202.5,189.4L204.2,190.3zM207.0,194.5L205.4,195.5L203.7,194.5L203.7,192.5L205.4,191.6L207.0,192.5zM209.9,196.7L208.2,197.7L206.5,196.7L206.5,194.8L208.2,193.8L209.9,194.8zM212.8,198.9L211.1,199.9L209.4,198.9L209.4,197.0L211.1,196.0L212.8,197.0zM215.6,201.2L213.9,202.2L212.2,201.2L212.2,199.2L213.9,198.3L215.6,199.2zM218.5,202.7L216.8,203.7L215.1,202.7L215.1,200.8L216.8,199.8L218.5,200.8zM221.3,202.7L219.6,203.7L217.9,202.7L217.9,200.8L219.6,199.8L221.3,200.8zM224.2,202.7L222.5,203.7L220.8,202.7L220.8,200.8L222.5,199.8L224.2,200.8zM227.0,202.7L225.3,203.7L223.7,202.7L223.7,200.8L225.3,199.8L227.0,200.8z" fill="none" stroke="#a02020" stroke-width="0.65"/>
<g transform="translate(137.95,41.05) rotate(-20.8)"><rect x="-33.4" y="-9.9" width="66.8" height="19.8" fill="#fff" stroke="#777" stroke-width="0.8"/><text x="0" y="4" font-size="11" text-anchor="middle" fill="#222">Concentrate</text></g>
<g transform="translate(131.7,157.3) rotate(33.3)"><rect x="-22.4" y="-8.9" width="44.8" height="17.8" fill="#fff" stroke="#777" stroke-width="0.8"/><text x="0" y="4" font-size="11" text-anchor="middle" fill="#222">Diluate</text></g>
<path d="M52.1,130.0h4.4v4.4h-4.4z" fill="none" stroke="#666666" stroke-width="0.7"/>
<path d="M62.9,129.8h4.8v4.8h-4.8z" fill="#000000"/>
<text x="72.4" y="135.50" font-size="9" fill="#222">NPM-0</text>
<path d="M52.1,143.0a2.2,2.2 0 1,0 4.4,0a2.2,2.2 0 1,0 -4.4,0z" fill="none" stroke="#ff3030" stroke-width="0.7"/>
<path d="M62.9,143.0a2.4,2.4 0 1,0 4.8,0a2.4,2.4 0 1,0 -4.8,0z" fill="#ff0000"/>
<text x="72.4" y="146.27" font-size="9" fill="#222">NPM-1</text>
<path d="M54.3,151.3L56.7,155.5H51.9z" fill="none" stroke="#40e840" stroke-width="0.7"/>
<path d="M65.3,151.1L67.9,155.7H62.7z" fill="#00ff00"/>
<text x="72.4" y="157.04" font-size="9" fill="#222">NPM-2</text>
<path d="M54.3,166.9L56.7,162.8H51.9z" fill="none" stroke="#3030ff" stroke-width="0.7"/>
<path d="M65.3,167.1L67.9,162.6H62.7z" fill="#0000ff"/>
<text x="72.4" y="167.81" font-size="9" fill="#222">NPM-3</text>
<path d="M54.3,172.6L56.9,175.3L54.3,177.9L51.7,175.3z" fill="none" stroke="#ff30ff" stroke-width="0.7"/>
<path d="M65.3,172.4L68.2,175.3L65.3,178.2L62.4,175.3z" fill="#ff00ff"/>
<text x="72.4" y="178.58" font-size="9" fill="#222">NPM-4</text>
<path d="M51.9,186.0L56.1,183.6V188.5z" fill="none" stroke="#ff8c10" stroke-width="0.7"/>
<path d="M62.7,186.0L67.2,183.4V188.7z" fill="#ff8000"/>
<text x="72.4" y="189.35" font-size="9" fill="#222">NPM-5</text>
<path d="M56.2,197.9L54.3,199.0L52.4,197.9L52.4,195.7L54.3,194.6L56.2,195.7z" fill="none" stroke="#a02020" stroke-width="0.7"/>
<path d="M67.4,198.0L65.3,199.2L63.2,198.0L63.2,195.6L65.3,194.4L67.4,195.6z" fill="#800000"/>
<text x="72.4" y="200.12" font-size="9" fill="#222">NPM-6</text>
<text x="329.5" y="13.8" font-size="15.5" font-weight="bold" fill="#000" stroke="#000" stroke-width="0.7">b</text>
<path d="M382.2,14.3H637.0V203.5" fill="none" stroke="#777" stroke-width="1"/>
<path d="M382.2,14.3V203.5" fill="none" stroke="#999" stroke-width="1.1"/>
<path d="M377.2,203.5H637.0" fill="none" stroke="#444" stroke-width="1"/>
<path d="M377.2,203.50H382.2" stroke="#555" stroke-width="1"/>
<text x="371" y="207.20" font-size="10.6" text-anchor="end" fill="#333">0</text>
<path d="M377.2,156.20H382.2" stroke="#555" stroke-width="1"/>
<text x="371" y="159.90" font-size="10.6" text-anchor="end" fill="#333">0.05</text>
<path d="M377.2,108.90H382.2" stroke="#555" stroke-width="1"/>
<text x="371" y="112.60" font-size="10.6" text-anchor="end" fill="#333">0.10</text>
<path d="M377.2,61.60H382.2" stroke="#555" stroke-width="1"/>
<text x="371" y="65.30" font-size="10.6" text-anchor="end" fill="#333">0.15</text>
<path d="M377.2,14.30H382.2" stroke="#555" stroke-width="1"/>
<text x="371" y="18.00" font-size="10.6" text-anchor="end" fill="#333">0.20</text>
<path d="M637.0,203.50H642.0" stroke="#555" stroke-width="1"/>
<text x="646.5" y="207.20" font-size="10.6" fill="#333">95</text>
<path d="M637.0,165.66H642.0" stroke="#555" stroke-width="1"/>
<text x="646.5" y="169.36" font-size="10.6" fill="#333">96</text>
<path d="M637.0,127.82H642.0" stroke="#555" stroke-width="1"/>
<text x="646.5" y="131.52" font-size="10.6" fill="#333">97</text>
<path d="M637.0,89.98H642.0" stroke="#555" stroke-width="1"/>
<text x="646.5" y="93.68" font-size="10.6" fill="#333">98</text>
<path d="M637.0,52.14H642.0" stroke="#555" stroke-width="1"/>
<text x="646.5" y="55.84" font-size="10.6" fill="#333">99</text>
<path d="M637.0,14.30H642.0" stroke="#555" stroke-width="1"/>
<text x="646.5" y="18.00" font-size="10.6" fill="#333">100</text>
<defs>
<linearGradient id="g0" x1="0" y1="0" x2="0" y2="1"><stop offset="0" stop-color="#4d4d4d"/><stop offset="0.12" stop-color="#4d4d4d"/><stop offset="1" stop-color="#4d4d4d"/></linearGradient>
<linearGradient id="g1" x1="0" y1="0" x2="0" y2="1"><stop offset="0" stop-color="#ff4c4c"/><stop offset="0.12" stop-color="#ff4c4c"/><stop offset="1" stop-color="#5a4646"/></linearGradient>
<linearGradient id="g2" x1="0" y1="0" x2="0" y2="1"><stop offset="0" stop-color="#4cff4c"/><stop offset="0.12" stop-color="#4cff4c"/><stop offset="1" stop-color="#465a46"/></linearGradient>
<linearGradient id="g3" x1="0" y1="0" x2="0" y2="1"><stop offset="0" stop-color="#4c4cff"/><stop offset="0.12" stop-color="#4c4cff"/><stop offset="1" stop-color="#46465a"/></linearGradient>
<linearGradient id="g4" x1="0" y1="0" x2="0" y2="1"><stop offset="0" stop-color="#4cffff"/><stop offset="0.12" stop-color="#4cffff"/><stop offset="1" stop-color="#465a5a"/></linearGradient>
<linearGradient id="g5" x1="0" y1="0" x2="0" y2="1"><stop offset="0" stop-color="#ff4cff"/><stop offset="0.12" stop-color="#ff4cff"/><stop offset="1" stop-color="#5a465a"/></linearGradient>
<linearGradient id="g6" x1="0" y1="0" x2="0" y2="1"><stop offset="0" stop-color="#ffff4c"/><stop offset="0.12" stop-color="#ffff4c"/><stop offset="1" stop-color="#5a5a46"/></linearGradient>
<radialGradient id="s0" cx="0.36" cy="0.34" r="0.75"><stop offset="0" stop-color="#f4f4f4"/><stop offset="0.38" stop-color="#000000"/><stop offset="1" stop-color="#000000" stop-opacity="1"/></radialGradient>
<radialGradient id="s1" cx="0.36" cy="0.34" r="0.75"><stop offset="0" stop-color="#f4f4f4"/><stop offset="0.38" stop-color="#ff0000"/><stop offset="1" stop-color="#ff0000" stop-opacity="1"/></radialGradient>
<radialGradient id="s2" cx="0.36" cy="0.34" r="0.75"><stop offset="0" stop-color="#f4f4f4"/><stop offset="0.38" stop-color="#00e000"/><stop offset="1" stop-color="#00e000" stop-opacity="1"/></radialGradient>
<radialGradient id="s3" cx="0.36" cy="0.34" r="0.75"><stop offset="0" stop-color="#f4f4f4"/><stop offset="0.38" stop-color="#0000e0"/><stop offset="1" stop-color="#0000e0" stop-opacity="1"/></radialGradient>
<radialGradient id="s4" cx="0.36" cy="0.34" r="0.75"><stop offset="0" stop-color="#f4f4f4"/><stop offset="0.38" stop-color="#00ffff"/><stop offset="1" stop-color="#00ffff" stop-opacity="1"/></radialGradient>
<radialGradient id="s5" cx="0.36" cy="0.34" r="0.75"><stop offset="0" stop-color="#f4f4f4"/><stop offset="0.38" stop-color="#ff00ff"/><stop offset="1" stop-color="#ff00ff" stop-opacity="1"/></radialGradient>
<radialGradient id="s6" cx="0.36" cy="0.34" r="0.75"><stop offset="0" stop-color="#f4f4f4"/><stop offset="0.38" stop-color="#ffff00"/><stop offset="1" stop-color="#ffff00" stop-opacity="1"/></radialGradient>
</defs>
<rect x="385.60" y="151.00" width="29.6" height="52.50" fill="url(#g0)" stroke="#444" stroke-width="0.5"/>
<path d="M400.40,203.5V208.8" stroke="#555" stroke-width="1"/>
<text transform="translate(405.40,217.5) rotate(-45)" font-size="11.8" text-anchor="end" fill="#222">NPM-0</text>
<rect x="421.88" y="147.40" width="29.6" height="56.10" fill="url(#g1)" stroke="#444" stroke-width="0.5"/>
<path d="M436.68,203.5V208.8" stroke="#555" stroke-width="1"/>
<text transform="translate(441.68,217.5) rotate(-45)" font-size="11.8" text-anchor="end" fill="#222">NPM-1</text>
<rect x="458.16" y="151.00" width="29.6" height="52.50" fill="url(#g2)" stroke="#444" stroke-width="0.5"/>
<path d="M472.96,203.5V208.8" stroke="#555" stroke-width="1"/>
<text transform="translate(477.96,217.5) rotate(-45)" font-size="11.8" text-anchor="end" fill="#222">NPM-2</text>
<rect x="494.44" y="148.92" width="29.6" height="54.58" fill="url(#g3)" stroke="#444" stroke-width="0.5"/>
<path d="M509.24,203.5V208.8" stroke="#555" stroke-width="1"/>
<text transform="translate(514.24,217.5) rotate(-45)" font-size="11.8" text-anchor="end" fill="#222">NPM-3</text>
<rect x="530.72" y="147.12" width="29.6" height="56.38" fill="url(#g4)" stroke="#444" stroke-width="0.5"/>
<path d="M545.52,203.5V208.8" stroke="#555" stroke-width="1"/>
<text transform="translate(550.52,217.5) rotate(-45)" font-size="11.8" text-anchor="end" fill="#222">NPM-4</text>
<rect x="567.00" y="152.23" width="29.6" height="51.27" fill="url(#g5)" stroke="#444" stroke-width="0.5"/>
<path d="M581.80,203.5V208.8" stroke="#555" stroke-width="1"/>
<text transform="translate(586.80,217.5) rotate(-45)" font-size="11.8" text-anchor="end" fill="#222">NPM-5</text>
<rect x="603.28" y="148.16" width="29.6" height="55.34" fill="url(#g6)" stroke="#444" stroke-width="0.5"/>
<path d="M618.08,203.5V208.8" stroke="#555" stroke-width="1"/>
<text transform="translate(623.08,217.5) rotate(-45)" font-size="11.8" text-anchor="end" fill="#222">NPM-6</text>
<path d="M382.2,146.3H637.0" stroke="#666" stroke-width="1.1" stroke-dasharray="5.3,2.7"/>
<circle cx="400.40" cy="33.2" r="3.9" fill="url(#s0)"/>
<circle cx="436.68" cy="33.2" r="3.9" fill="url(#s1)"/>
<circle cx="472.96" cy="33.2" r="3.9" fill="url(#s2)"/>
<circle cx="509.24" cy="33.2" r="3.9" fill="url(#s3)"/>
<circle cx="545.52" cy="33.2" r="3.9" fill="url(#s4)"/>
<circle cx="581.80" cy="33.2" r="3.9" fill="url(#s5)"/>
<circle cx="618.08" cy="33.2" r="3.9" fill="url(#s6)"/>
<path d="M382.2,34.2H637.0" stroke="#666" stroke-opacity="0.85" stroke-width="1.1" stroke-dasharray="5.3,2.7"/>
<text x="476.6" y="25.6" font-size="11.6" fill="#222">99.5%</text>
<text x="484.6" y="139" font-size="11.6" fill="#222">0.06 g l<tspan font-size="8.4" dy="-5">&#8722;1</tspan></text>
<path d="M436.1,146.5C436,138 432,132.5 420,131.8L405,131.4" fill="none" stroke="#3d5068" stroke-width="0.9"/>
<path d="M402.3,131.3L408,128.8L406.5,131.4L408,134z" fill="#3d5068"/>
<path d="M545.5,37C546,47 550,51 565,52.3L576,52.8" fill="none" stroke="#3d5068" stroke-width="0.9"/>
<path d="M579.8,52.8L574,50.3L575.5,52.8L574,55.4z" fill="#3d5068"/>
<text transform="translate(340.5,108.6) rotate(-90)" font-size="12.2" text-anchor="middle" fill="#222">NaCl content in diluate (g l<tspan font-size="8" dy="-4.5">&#8722;1</tspan><tspan dy="4.5">)</tspan></text>
<text transform="translate(674.5,108.9) rotate(90)" font-size="12" text-anchor="middle" fill="#222">Desalination efficiency (%)</text>
<text x="5" y="273.3" font-size="15.5" font-weight="bold" fill="#000" stroke="#000" stroke-width="0.7">c</text>
<path d="M49.6,269.5H303.8V458.5" fill="none" stroke="#777" stroke-width="1"/>
<path d="M49.6,269.5V458.5" fill="none" stroke="#888" stroke-width="1.1"/>
<path d="M44.6,458.5H303.8" fill="none" stroke="#444" stroke-width="1"/>
<path d="M44.6,458.50H49.6" stroke="#555" stroke-width="1"/>
<text x="39.8" y="462.20" font-size="10.6" text-anchor="end" fill="#333">0</text>
<path d="M44.6,438.61H49.6" stroke="#555" stroke-width="1"/>
<text x="39.8" y="442.31" font-size="10.6" text-anchor="end" fill="#333">1</text>
<path d="M44.6,418.72H49.6" stroke="#555" stroke-width="1"/>
<text x="39.8" y="422.42" font-size="10.6" text-anchor="end" fill="#333">2</text>
<path d="M44.6,398.83H49.6" stroke="#555" stroke-width="1"/>
<text x="39.8" y="402.53" font-size="10.6" text-anchor="end" fill="#333">3</text>
<path d="M44.6,378.94H49.6" stroke="#555" stroke-width="1"/>
<text x="39.8" y="382.64" font-size="10.6" text-anchor="end" fill="#333">4</text>
<path d="M44.6,359.05H49.6" stroke="#555" stroke-width="1"/>
<text x="39.8" y="362.75" font-size="10.6" text-anchor="end" fill="#333">5</text>
<path d="M44.6,339.16H49.6" stroke="#555" stroke-width="1"/>
<text x="39.8" y="342.86" font-size="10.6" text-anchor="end" fill="#333">6</text>
<path d="M44.6,319.27H49.6" stroke="#555" stroke-width="1"/>
<text x="39.8" y="322.97" font-size="10.6" text-anchor="end" fill="#333">7</text>
<path d="M44.6,299.38H49.6" stroke="#555" stroke-width="1"/>
<text x="39.8" y="303.08" font-size="10.6" text-anchor="end" fill="#333">8</text>
<path d="M44.6,279.49H49.6" stroke="#555" stroke-width="1"/>
<text x="39.8" y="283.19" font-size="10.6" text-anchor="end" fill="#333">9</text>
<rect x="52.95" y="283.07" width="29.3" height="175.43" fill="#3e3e3e" stroke="#333" stroke-width="0.6"/>
<path d="M67.60,280.48V285.66M65.60,280.48h4M65.60,285.66h4" stroke="#444" stroke-width="0.7" fill="none"/>
<path d="M67.60,458.5V463.5" stroke="#555" stroke-width="1"/>
<text transform="translate(74.10,474) rotate(-45)" font-size="11.8" text-anchor="end" fill="#222">NPM-0</text>
<rect x="89.30" y="293.02" width="29.3" height="165.48" fill="#ff3b3b" stroke="#333" stroke-width="0.6"/>
<path d="M103.95,290.63V295.40M101.95,290.63h4M101.95,295.40h4" stroke="#444" stroke-width="0.7" fill="none"/>
<path d="M103.95,458.5V463.5" stroke="#555" stroke-width="1"/>
<text transform="translate(110.45,474) rotate(-45)" font-size="11.8" text-anchor="end" fill="#222">NPM-1</text>
<rect x="125.65" y="310.92" width="29.3" height="147.58" fill="#3bff3b" stroke="#333" stroke-width="0.6"/>
<path d="M140.30,308.33V313.50M138.30,308.33h4M138.30,313.50h4" stroke="#444" stroke-width="0.7" fill="none"/>
<path d="M140.30,458.5V463.5" stroke="#555" stroke-width="1"/>
<text transform="translate(146.80,474) rotate(-45)" font-size="11.8" text-anchor="end" fill="#222">NPM-2</text>
<rect x="162.00" y="322.05" width="29.3" height="136.45" fill="#3b3bff" stroke="#333" stroke-width="0.6"/>
<path d="M176.65,321.66V322.45M174.65,321.66h4M174.65,322.45h4" stroke="#444" stroke-width="0.7" fill="none"/>
<path d="M176.65,458.5V463.5" stroke="#555" stroke-width="1"/>
<text transform="translate(183.15,474) rotate(-45)" font-size="11.8" text-anchor="end" fill="#222">NPM-3</text>
<rect x="198.35" y="328.02" width="29.3" height="130.48" fill="#3bffff" stroke="#333" stroke-width="0.6"/>
<path d="M213.00,326.43V329.61M211.00,326.43h4M211.00,329.61h4" stroke="#444" stroke-width="0.7" fill="none"/>
<path d="M213.00,458.5V463.5" stroke="#555" stroke-width="1"/>
<text transform="translate(219.50,474) rotate(-45)" font-size="11.8" text-anchor="end" fill="#222">NPM-4</text>
<rect x="234.70" y="336.97" width="29.3" height="121.53" fill="#ff3bff" stroke="#333" stroke-width="0.6"/>
<path d="M249.35,334.78V339.16M247.35,334.78h4M247.35,339.16h4" stroke="#444" stroke-width="0.7" fill="none"/>
<path d="M249.35,458.5V463.5" stroke="#555" stroke-width="1"/>
<text transform="translate(255.85,474) rotate(-45)" font-size="11.8" text-anchor="end" fill="#222">NPM-5</text>
<rect x="271.05" y="341.75" width="29.3" height="116.75" fill="#ffff3b" stroke="#333" stroke-width="0.6"/>
<path d="M285.70,339.96V343.54M283.70,339.96h4M283.70,343.54h4" stroke="#444" stroke-width="0.7" fill="none"/>
<path d="M285.70,458.5V463.5" stroke="#555" stroke-width="1"/>
<text transform="translate(292.20,474) rotate(-45)" font-size="11.8" text-anchor="end" fill="#222">NPM-6</text>
<path d="M82.3,283.1H292" stroke="#777" stroke-width="1.1" stroke-dasharray="5,3"/>
<path d="M290.6,286V339" stroke="#3d5068" stroke-width="0.9"/>
<path d="M290.6,283.3L288.2,289.5H293z M290.6,341.8L288.2,335.6H293z" fill="#3d5068"/>
<text x="252.5" y="315.2" font-size="11.6" fill="#222">33.5%</text>
<text transform="translate(22.5,363.5) rotate(-90)" font-size="12.2" text-anchor="middle" fill="#222">Energy consumption (KWh kg<tspan font-size="8" dy="-4.5">&#8722;1</tspan><tspan dy="4.5">)</tspan></text>
<text x="333.5" y="272.5" font-size="15.5" font-weight="bold" fill="#000" stroke="#000" stroke-width="0.7">d</text>
<defs><filter id="nz" x="0" y="0" width="100%" height="100%" color-interpolation-filters="sRGB"><feTurbulence type="fractalNoise" baseFrequency="1.1" numOctaves="2" seed="5" result="t"/><feColorMatrix in="t" type="matrix" values="0.75 0 0 0 0.24  0.75 0 0 0 0.24  0.75 0 0 0 0.24  0 0 0 0 1" result="g"/><feComposite in="g" in2="SourceGraphic" operator="in"/></filter></defs>
<rect x="359.2" y="268.3" width="112" height="13.4" fill="#fff" stroke="#888" stroke-width="0.8"/>
<text x="415.2" y="278.3" font-size="8.95" text-anchor="middle" fill="#222">Loose TFC NPM substrate</text>
<rect x="515.1" y="268.3" width="116.7" height="13.4" fill="#fff" stroke="#888" stroke-width="0.8"/>
<text x="573.5" y="278.3" font-size="8.95" text-anchor="middle" fill="#222">PDA/PEI-coated TFC NPMs</text>
<rect x="334" y="283.3" width="158.3" height="187.3" fill="none" stroke="#5a5aff" stroke-width="0.9" stroke-dasharray="1.6,0.9"/>
<rect x="494.5" y="283.3" width="158" height="187" fill="none" stroke="#9a5ad8" stroke-width="0.9" stroke-dasharray="1.6,0.9"/>
<path d="M339.1,361V296.6H487.5V361" fill="none" stroke="#111" stroke-width="1.7"/>
<path d="M498.9,361V296.4H647.3V361" fill="none" stroke="#111" stroke-width="1.7"/>
<circle cx="411.4" cy="296.7" r="10.5" fill="#fff"/><path d="M402.3,291.4L400.1,290.2" stroke="#999" stroke-width="0.6"/><path d="M406.1,287.6L404.9,285.4" stroke="#999" stroke-width="0.6"/><path d="M411.4,286.2L411.4,283.7" stroke="#999" stroke-width="0.6"/><path d="M416.6,287.6L417.9,285.4" stroke="#999" stroke-width="0.6"/><path d="M420.5,291.4L422.7,290.2" stroke="#999" stroke-width="0.6"/><path d="M419.4,303.4L421.4,305.1" stroke="#999" stroke-width="0.6"/><path d="M403.4,303.4L401.4,305.1" stroke="#999" stroke-width="0.6"/><path d="M404.29,302.06A8.9,8.9 0 1,1 418.51,302.06" fill="none" stroke="#000" stroke-width="2.8"/><path d="M410.0,293.2L415.3,293.2L413.0,298.0L416.4,298.0L407.6,308.3L410.5,300.1L406.8,300.1z" fill="#000"/>
<circle cx="571.8" cy="296.6" r="10.5" fill="#fff"/><path d="M562.7,291.4L560.5,290.1" stroke="#999" stroke-width="0.6"/><path d="M566.5,287.5L565.3,285.3" stroke="#999" stroke-width="0.6"/><path d="M571.8,286.1L571.8,283.6" stroke="#999" stroke-width="0.6"/><path d="M577.0,287.5L578.3,285.3" stroke="#999" stroke-width="0.6"/><path d="M580.9,291.4L583.1,290.1" stroke="#999" stroke-width="0.6"/><path d="M579.8,303.3L581.8,305.0" stroke="#999" stroke-width="0.6"/><path d="M563.8,303.3L561.8,305.0" stroke="#999" stroke-width="0.6"/><path d="M564.69,301.96A8.9,8.9 0 1,1 578.91,301.96" fill="none" stroke="#000" stroke-width="2.8"/><path d="M570.4,293.1L575.7,293.1L573.4,297.9L576.8,297.9L568.0,308.2L570.9,300.0L567.2,300.0z" fill="#000"/>
<rect x="377.4" y="313.3" width="71.1" height="12" fill="#fff" stroke="#666" stroke-width="0.8" stroke-dasharray="1.3,1.3"/>
<text x="413" y="322.2" font-size="7.7" text-anchor="middle" fill="#222">Slow anion transfer</text>
<rect x="529.1" y="309.2" width="93.2" height="20.7" fill="#fff" stroke="#666" stroke-width="0.8" stroke-dasharray="1.3,1.3"/>
<text x="575.7" y="317.8" font-size="7.8" text-anchor="middle" fill="#222">Enhanced shielding effect</text>
<text x="575.7" y="326.6" font-size="7.8" text-anchor="middle" fill="#222">fast anion transfer</text>
<rect x="335.3" y="360.3" width="7.6" height="60.2" fill="#7c7c7c" stroke="#4a4a4a" stroke-width="0.6"/><text transform="translate(341.7,390.4) rotate(-90)" font-size="7.6" text-anchor="middle" fill="#1a1a1a">Cathode</text><path d="M337.8,363.5h2.6M337.8,418.3h2.6" stroke="#222" stroke-width="0.7"/>
<rect x="483.3" y="360.3" width="7.3" height="60.3" fill="#7c7c7c" stroke="#4a4a4a" stroke-width="0.6"/><text transform="translate(489.6,390.5) rotate(-90)" font-size="7.6" text-anchor="middle" fill="#1a1a1a">Anode</text><path d="M485.6,363.8h2.8M487.0,362.4v2.8M485.6,417.4h2.8M487.0,416.0v2.8" stroke="#222" stroke-width="0.7"/>
<rect x="495.4" y="360.3" width="7.4" height="60.3" fill="#7c7c7c" stroke="#4a4a4a" stroke-width="0.6"/><text transform="translate(501.7,390.5) rotate(-90)" font-size="7.6" text-anchor="middle" fill="#1a1a1a">Cathode</text><path d="M497.8,363.5h2.6M497.8,418.4h2.6" stroke="#222" stroke-width="0.7"/>
<rect x="643.9" y="360.3" width="6.9" height="60.3" fill="#7c7c7c" stroke="#4a4a4a" stroke-width="0.6"/><text transform="translate(649.9,390.5) rotate(-90)" font-size="7.6" text-anchor="middle" fill="#1a1a1a">Anode</text><path d="M645.9,363.8h2.8M647.3,362.4v2.8M645.9,417.4h2.8M647.3,416.0v2.8" stroke="#222" stroke-width="0.7"/>
<path d="M361.2,337.5L364.0,334.5L369.7,332.2L430.4,333.2L430.4,359.8L428.8,353.3L425.6,357.9L421.0,354.6L417.0,359.2L413.1,355.2L409.1,357.9L405.2,353.3L398.6,359.8L393.4,356.5L389.4,357.9L385.5,353.3L380.2,359.2L374.3,354.6L369.7,358.5L365.1,355.2L363.1,352.6L366.4,347.3z" fill="#6db36d"/>
<path d="M361.2,377.9L367.1,379.9L371.0,376.6L376.3,381.2L384.8,377.9L389.4,382.5L394.7,377.9L400.6,376.6L405.2,383.1L409.8,378.5L414.4,376.6L418.3,379.9L421.6,375.3L426.9,379.2L430.4,375.3L430.4,399.5L426.2,400.2L421.6,395.6L417.0,398.3L411.8,395.0L405.2,396.3L399.9,393.0L394.7,395.6L389.4,396.3L384.8,398.3L378.3,396.9L376.9,391.0L371.7,395.0L367.1,397.6L362.5,396.3L363.1,392.3L361.2,387.1L362.5,384.5z" fill="#6db36d"/>
<path d="M363.1,417.5L367.1,419.5L369.7,416.8L373.7,418.8L378.3,416.2L382.9,418.1L389.4,416.8L390.7,418.8L396.0,415.5L400.6,414.9L406.5,422.7L411.8,418.1L416.4,415.5L419.0,420.8L423.6,418.1L427.5,415.5L428.8,422.1L430.4,415.5L430.4,440.8L369.7,443.1L361.2,435.9L367.1,427.3L362.5,422.1L365.1,421.4z" fill="#6db36d"/>
<path d="M430.2,333.0L465,341.2V351.8L430.2,359.7z" fill="#000" filter="url(#nz)"/>
<path d="M430.2,374.5L464.8,381.5V393.5L430.2,399.8z" fill="#000" filter="url(#nz)"/>
<path d="M430.2,415.9L465,422.4V436.1L430.2,441.8z" fill="#000" filter="url(#nz)"/>
<circle cx="371.7" cy="341.4" r="3.3" fill="none" stroke="#3458b0" stroke-width="0.7"/><path d="M370.2,341.4h3" stroke="#23408a" stroke-width="0.8"/>
<circle cx="381.5" cy="350.6" r="3.3" fill="none" stroke="#3458b0" stroke-width="0.7"/><path d="M380.0,350.6h3" stroke="#23408a" stroke-width="0.8"/>
<circle cx="394.3" cy="349.0" r="3.3" fill="none" stroke="#3458b0" stroke-width="0.7"/><path d="M392.8,349.0h3" stroke="#23408a" stroke-width="0.8"/>
<circle cx="406.1" cy="342.5" r="3.3" fill="none" stroke="#3458b0" stroke-width="0.7"/><path d="M404.6,342.5h3" stroke="#23408a" stroke-width="0.8"/>
<circle cx="415.7" cy="349.0" r="3.3" fill="none" stroke="#3458b0" stroke-width="0.7"/><path d="M414.2,349.0h3" stroke="#23408a" stroke-width="0.8"/>
<circle cx="425.6" cy="341.0" r="3.3" fill="none" stroke="#3458b0" stroke-width="0.7"/><path d="M424.1,341.0h3" stroke="#23408a" stroke-width="0.8"/>
<circle cx="368.1" cy="386.4" r="3.3" fill="none" stroke="#3458b0" stroke-width="0.7"/><path d="M366.6,386.4h3" stroke="#23408a" stroke-width="0.8"/>
<circle cx="382.9" cy="388.4" r="3.3" fill="none" stroke="#3458b0" stroke-width="0.7"/><path d="M381.4,388.4h3" stroke="#23408a" stroke-width="0.8"/>
<circle cx="397.3" cy="385.1" r="3.3" fill="none" stroke="#3458b0" stroke-width="0.7"/><path d="M395.8,385.1h3" stroke="#23408a" stroke-width="0.8"/>
<circle cx="407.6" cy="389.7" r="3.3" fill="none" stroke="#3458b0" stroke-width="0.7"/><path d="M406.1,389.7h3" stroke="#23408a" stroke-width="0.8"/>
<circle cx="420.7" cy="382.9" r="3.3" fill="none" stroke="#3458b0" stroke-width="0.7"/><path d="M419.2,382.9h3" stroke="#23408a" stroke-width="0.8"/>
<circle cx="422.0" cy="391.7" r="3.3" fill="none" stroke="#3458b0" stroke-width="0.7"/><path d="M420.5,391.7h3" stroke="#23408a" stroke-width="0.8"/>
<circle cx="371.7" cy="425.4" r="3.3" fill="none" stroke="#3458b0" stroke-width="0.7"/><path d="M370.2,425.4h3" stroke="#23408a" stroke-width="0.8"/>
<circle cx="384.8" cy="422.1" r="3.3" fill="none" stroke="#3458b0" stroke-width="0.7"/><path d="M383.3,422.1h3" stroke="#23408a" stroke-width="0.8"/>
<circle cx="396.0" cy="430.4" r="3.3" fill="none" stroke="#3458b0" stroke-width="0.7"/><path d="M394.5,430.4h3" stroke="#23408a" stroke-width="0.8"/>
<circle cx="410.4" cy="428.7" r="3.3" fill="none" stroke="#3458b0" stroke-width="0.7"/><path d="M408.9,428.7h3" stroke="#23408a" stroke-width="0.8"/>
<circle cx="422.0" cy="423.8" r="3.3" fill="none" stroke="#3458b0" stroke-width="0.7"/><path d="M420.5,423.8h3" stroke="#23408a" stroke-width="0.8"/>
<circle cx="369.7" cy="436.9" r="3.3" fill="none" stroke="#3458b0" stroke-width="0.7"/><path d="M368.2,436.9h3" stroke="#23408a" stroke-width="0.8"/>
<path d="M366.4,366.4Q374.3,358.5 381.4,366.6" fill="none" stroke="#f47878" stroke-width="1.2"/>
<path d="M383.5,369L382.9,365.3L379.9,367.9z" fill="#f47878"/>
<path d="M394,369Q401.2,358.5 407.6,365.4" fill="none" stroke="#f47878" stroke-width="1.2"/>
<path d="M409.8,367.7L409.1,364.0L406.2,366.7z" fill="#f47878"/>
<path d="M421.6,367Q428.8,371.5 434.7,367.7" fill="none" stroke="#f47878" stroke-width="1.2"/>
<path d="M437.4,366L433.6,366.0L435.8,369.4z" fill="#f47878"/>
<path d="M368.4,409.4Q376.3,417 383.4,409.2" fill="none" stroke="#f47878" stroke-width="1.2"/>
<path d="M385.5,406.8L381.9,407.8L384.8,410.5z" fill="#f47878"/>
<path d="M396.6,405.5Q403.9,417 410.9,409.8" fill="none" stroke="#f47878" stroke-width="1.2"/>
<path d="M413.1,407.5L409.4,408.4L412.3,411.2z" fill="#f47878"/>
<path d="M424.2,405.5Q431,403 434.0,406.9" fill="none" stroke="#f47878" stroke-width="1.2"/>
<path d="M436,409.4L435.6,405.6L432.5,408.1z" fill="#f47878"/>
<path d="M448.2,365.8H454.9" stroke="#f47878" stroke-width="1.2"/><path d="M457.9,365.8L454.4,363.8V367.8z" fill="#f47878"/>
<path d="M446,411.5H452.8" stroke="#f47878" stroke-width="1.2"/><path d="M455.8,411.5L452.3,409.5V413.5z" fill="#f47878"/>
<circle cx="360.5" cy="366.0" r="3.9" fill="#f47a7a" stroke="#8e7a62" stroke-width="0.7"/><path d="M360.7,364.7A1.5,1.5 0 1,0 360.7,367.3M361.9,364.1V367.6" fill="none" stroke="#fff" stroke-width="0.7"/>
<circle cx="388.1" cy="371.6" r="3.9" fill="#f47a7a" stroke="#8e7a62" stroke-width="0.7"/><path d="M388.3,370.3A1.5,1.5 0 1,0 388.3,372.9M389.5,369.7V373.2" fill="none" stroke="#fff" stroke-width="0.7"/>
<circle cx="415.0" cy="367.3" r="3.9" fill="#f47a7a" stroke="#8e7a62" stroke-width="0.7"/><path d="M415.2,366.0A1.5,1.5 0 1,0 415.2,368.6M416.4,365.4V368.9" fill="none" stroke="#fff" stroke-width="0.7"/>
<circle cx="442.6" cy="364.7" r="3.9" fill="#f47a7a" stroke="#8e7a62" stroke-width="0.7"/><path d="M442.8,363.4A1.5,1.5 0 1,0 442.8,366.0M444.0,362.8V366.3" fill="none" stroke="#fff" stroke-width="0.7"/>
<circle cx="464.6" cy="365.8" r="3.9" fill="#f47a7a" stroke="#8e7a62" stroke-width="0.7"/><path d="M464.8,364.5A1.5,1.5 0 1,0 464.8,367.1M466.0,363.9V367.4" fill="none" stroke="#fff" stroke-width="0.7"/>
<circle cx="472.6" cy="354.9" r="3.9" fill="#f47a7a" stroke="#8e7a62" stroke-width="0.7"/><path d="M472.8,353.6A1.5,1.5 0 1,0 472.8,356.2M474.0,353.0V356.5" fill="none" stroke="#fff" stroke-width="0.7"/>
<circle cx="472.6" cy="382.4" r="3.9" fill="#f47a7a" stroke="#8e7a62" stroke-width="0.7"/><path d="M472.8,381.1A1.5,1.5 0 1,0 472.8,383.7M474.0,380.5V384.0" fill="none" stroke="#fff" stroke-width="0.7"/>
<circle cx="362.5" cy="407.5" r="3.9" fill="#f47a7a" stroke="#8e7a62" stroke-width="0.7"/><path d="M362.7,406.2A1.5,1.5 0 1,0 362.7,408.8M363.9,405.6V409.1" fill="none" stroke="#fff" stroke-width="0.7"/>
<circle cx="390.1" cy="404.4" r="3.9" fill="#f47a7a" stroke="#8e7a62" stroke-width="0.7"/><path d="M390.3,403.1A1.5,1.5 0 1,0 390.3,405.7M391.5,402.5V406.0" fill="none" stroke="#fff" stroke-width="0.7"/>
<circle cx="418.1" cy="405.2" r="3.9" fill="#f47a7a" stroke="#8e7a62" stroke-width="0.7"/><path d="M418.3,403.9A1.5,1.5 0 1,0 418.3,406.5M419.5,403.3V406.8" fill="none" stroke="#fff" stroke-width="0.7"/>
<circle cx="439.8" cy="411.5" r="3.9" fill="#f47a7a" stroke="#8e7a62" stroke-width="0.7"/><path d="M440.0,410.2A1.5,1.5 0 1,0 440.0,412.8M441.2,409.6V413.1" fill="none" stroke="#fff" stroke-width="0.7"/>
<circle cx="462.4" cy="411.5" r="3.9" fill="#f47a7a" stroke="#8e7a62" stroke-width="0.7"/><path d="M462.6,410.2A1.5,1.5 0 1,0 462.6,412.8M463.8,409.6V413.1" fill="none" stroke="#fff" stroke-width="0.7"/>
<circle cx="472.6" cy="405.9" r="3.9" fill="#f47a7a" stroke="#8e7a62" stroke-width="0.7"/><path d="M472.8,404.6A1.5,1.5 0 1,0 472.8,407.2M474.0,404.0V407.5" fill="none" stroke="#fff" stroke-width="0.7"/>
<g transform="translate(358,339) rotate(90) scale(0.65)" stroke="#333" stroke-width="0.45" fill="#222"><path d="M0,0L-4,-2M0,0L3,-3M0,0L1,4M3,-3L6,-3" fill="none"/><circle cx="-4" cy="-2" r="0.8"/><circle cx="6" cy="-3" r="0.7"/><circle cx="1" cy="4" r="0.8"/></g>
<g transform="translate(358,352) rotate(80) scale(0.65)" stroke="#333" stroke-width="0.45" fill="#222"><path d="M0,0L-4,-2M0,0L3,-3M0,0L1,4M3,-3L6,-3" fill="none"/><circle cx="-4" cy="-2" r="0.8"/><circle cx="6" cy="-3" r="0.7"/><circle cx="1" cy="4" r="0.8"/></g>
<g transform="translate(386,361) rotate(0) scale(0.65)" stroke="#333" stroke-width="0.45" fill="#222"><path d="M0,0L-4,-2M0,0L3,-3M0,0L1,4M3,-3L6,-3" fill="none"/><circle cx="-4" cy="-2" r="0.8"/><circle cx="6" cy="-3" r="0.7"/><circle cx="1" cy="4" r="0.8"/></g>
<g transform="translate(425,362) rotate(-10) scale(0.65)" stroke="#333" stroke-width="0.45" fill="#222"><path d="M0,0L-4,-2M0,0L3,-3M0,0L1,4M3,-3L6,-3" fill="none"/><circle cx="-4" cy="-2" r="0.8"/><circle cx="6" cy="-3" r="0.7"/><circle cx="1" cy="4" r="0.8"/></g>
<g transform="translate(371,374) rotate(10) scale(0.65)" stroke="#333" stroke-width="0.45" fill="#222"><path d="M0,0L-4,-2M0,0L3,-3M0,0L1,4M3,-3L6,-3" fill="none"/><circle cx="-4" cy="-2" r="0.8"/><circle cx="6" cy="-3" r="0.7"/><circle cx="1" cy="4" r="0.8"/></g>
<g transform="translate(404,376) rotate(0) scale(0.65)" stroke="#333" stroke-width="0.45" fill="#222"><path d="M0,0L-4,-2M0,0L3,-3M0,0L1,4M3,-3L6,-3" fill="none"/><circle cx="-4" cy="-2" r="0.8"/><circle cx="6" cy="-3" r="0.7"/><circle cx="1" cy="4" r="0.8"/></g>
<g transform="translate(359,385) rotate(70) scale(0.65)" stroke="#333" stroke-width="0.45" fill="#222"><path d="M0,0L-4,-2M0,0L3,-3M0,0L1,4M3,-3L6,-3" fill="none"/><circle cx="-4" cy="-2" r="0.8"/><circle cx="6" cy="-3" r="0.7"/><circle cx="1" cy="4" r="0.8"/></g>
<g transform="translate(377,401) rotate(0) scale(0.65)" stroke="#333" stroke-width="0.45" fill="#222"><path d="M0,0L-4,-2M0,0L3,-3M0,0L1,4M3,-3L6,-3" fill="none"/><circle cx="-4" cy="-2" r="0.8"/><circle cx="6" cy="-3" r="0.7"/><circle cx="1" cy="4" r="0.8"/></g>
<g transform="translate(414,400) rotate(20) scale(0.65)" stroke="#333" stroke-width="0.45" fill="#222"><path d="M0,0L-4,-2M0,0L3,-3M0,0L1,4M3,-3L6,-3" fill="none"/><circle cx="-4" cy="-2" r="0.8"/><circle cx="6" cy="-3" r="0.7"/><circle cx="1" cy="4" r="0.8"/></g>
<g transform="translate(360,421) rotate(70) scale(0.65)" stroke="#333" stroke-width="0.45" fill="#222"><path d="M0,0L-4,-2M0,0L3,-3M0,0L1,4M3,-3L6,-3" fill="none"/><circle cx="-4" cy="-2" r="0.8"/><circle cx="6" cy="-3" r="0.7"/><circle cx="1" cy="4" r="0.8"/></g>
<g transform="translate(358,431) rotate(80) scale(0.65)" stroke="#333" stroke-width="0.45" fill="#222"><path d="M0,0L-4,-2M0,0L3,-3M0,0L1,4M3,-3L6,-3" fill="none"/><circle cx="-4" cy="-2" r="0.8"/><circle cx="6" cy="-3" r="0.7"/><circle cx="1" cy="4" r="0.8"/></g>
<g transform="translate(393,413) rotate(0) scale(0.65)" stroke="#333" stroke-width="0.45" fill="#222"><path d="M0,0L-4,-2M0,0L3,-3M0,0L1,4M3,-3L6,-3" fill="none"/><circle cx="-4" cy="-2" r="0.8"/><circle cx="6" cy="-3" r="0.7"/><circle cx="1" cy="4" r="0.8"/></g>
<g transform="translate(420,413) rotate(-10) scale(0.65)" stroke="#333" stroke-width="0.45" fill="#222"><path d="M0,0L-4,-2M0,0L3,-3M0,0L1,4M3,-3L6,-3" fill="none"/><circle cx="-4" cy="-2" r="0.8"/><circle cx="6" cy="-3" r="0.7"/><circle cx="1" cy="4" r="0.8"/></g>
<path d="M361.6,444.6V449H430.2V444.6M396.1,449V452.6" fill="none" stroke="#5cb85c" stroke-width="0.9"/>
<path d="M430.2,444.6V449H464.8V444.6M447.7,449V452.6" fill="none" stroke="#666" stroke-width="0.9"/>
<text x="396" y="461.8" font-size="5.6" text-anchor="middle" fill="#333">Polyamide (PA)</text>
<text x="396" y="468" font-size="5.6" text-anchor="middle" fill="#333">nanochannels</text>
<text x="447.7" y="461.8" font-size="5.6" text-anchor="middle" fill="#333">Polysulfone</text>
<text x="447.7" y="468" font-size="5.6" text-anchor="middle" fill="#333">porous substrate</text>
<path d="M517.2,338.3L519.8,334.2L525.0,332.4L589.0,332.4L589.0,359.5L585.8,355.9L581.2,358.8L576.0,355.8L570.7,357.6L565.4,353.4L561.5,357.0L557.6,362.1L551.6,359.6L547.0,355.8L543.1,357.6L538.5,359.5L533.3,355.8L528.0,358.9L523.6,356.3L520.4,352.4L521.7,348.0L519.0,342.5z" fill="#6aa028" stroke="#f8b800" stroke-width="2.5" stroke-linejoin="round"/>
<path d="M517.8,377.5L522.1,376.8L524.7,380.6L528.7,375.5L533.3,378.6L538.5,376.8L544.4,382.2L548.4,377.9L552.3,375.5L557.6,376.8L562.8,382.2L568.1,376.0L573.3,374.9L577.9,379.2L582.5,374.9L585.2,378.6L589.0,375.5L589.0,400.5L583.8,394.2L580.6,398.0L576.6,394.8L572.0,398.6L566.8,394.8L560.2,397.4L555.6,393.5L550.3,397.4L544.4,396.0L538.5,397.4L533.3,394.2L529.3,399.2L524.7,395.5L520.3,397.3L519.0,392.3L518.5,384.5z" fill="#6aa028" stroke="#f8b800" stroke-width="2.5" stroke-linejoin="round"/>
<path d="M520.4,419.0L524.7,415.9L528.7,419.0L533.3,415.9L537.9,417.6L544.4,416.4L549.7,419.6L553.6,416.4L557.6,414.5L565.4,421.8L570.7,418.9L573.3,415.2L576.6,418.3L579.9,416.4L583.8,415.2L585.2,420.6L589.0,415.9L589.0,443.4L522.4,443.4L517.8,437.9L521.6,431.3L524.2,427.3L522.2,423.4z" fill="#6aa028" stroke="#f8b800" stroke-width="2.5" stroke-linejoin="round"/>
<path d="M587.6,331.2L622.5,341.5V351.8L587.6,359.9z" fill="#000" filter="url(#nz)"/>
<path d="M587.6,373.2L622.3,382.5V393.5L587.6,400.8z" fill="#000" filter="url(#nz)"/>
<path d="M587.6,413.6L622.5,423.5V437L587.6,444.6z" fill="#000" filter="url(#nz)"/>
<circle cx="531.9" cy="349.3" r="3.3" fill="none" stroke="#3458b0" stroke-width="0.7"/><path d="M530.4,349.3h3" stroke="#23408a" stroke-width="0.8"/>
<circle cx="551.6" cy="347.3" r="3.3" fill="none" stroke="#3458b0" stroke-width="0.7"/><path d="M550.1,347.3h3" stroke="#23408a" stroke-width="0.8"/>
<circle cx="569.4" cy="347.6" r="3.3" fill="none" stroke="#3458b0" stroke-width="0.7"/><path d="M567.9,347.6h3" stroke="#23408a" stroke-width="0.8"/>
<circle cx="528.7" cy="386.4" r="3.3" fill="none" stroke="#3458b0" stroke-width="0.7"/><path d="M527.2,386.4h3" stroke="#23408a" stroke-width="0.8"/>
<circle cx="554.7" cy="386.4" r="3.3" fill="none" stroke="#3458b0" stroke-width="0.7"/><path d="M553.2,386.4h3" stroke="#23408a" stroke-width="0.8"/>
<circle cx="579.5" cy="388.4" r="3.3" fill="none" stroke="#3458b0" stroke-width="0.7"/><path d="M578.0,388.4h3" stroke="#23408a" stroke-width="0.8"/>
<circle cx="532.3" cy="427.3" r="3.3" fill="none" stroke="#3458b0" stroke-width="0.7"/><path d="M530.8,427.3h3" stroke="#23408a" stroke-width="0.8"/>
<circle cx="559.3" cy="429.0" r="3.3" fill="none" stroke="#3458b0" stroke-width="0.7"/><path d="M557.8,429.0h3" stroke="#23408a" stroke-width="0.8"/>
<circle cx="577.5" cy="429.0" r="3.3" fill="none" stroke="#3458b0" stroke-width="0.7"/><path d="M576.0,429.0h3" stroke="#23408a" stroke-width="0.8"/>
<path d="M524.7,369L531.9,368.2" stroke="#f01c1c" stroke-width="1.7"/>
<path d="M536.5,367.7L531.6,365.2L532.3,371.2z" fill="#f01c1c"/>
<path d="M547.7,368.4L552.6,370.1" stroke="#f01c1c" stroke-width="1.7"/>
<path d="M556.9,371.6L553.5,367.3L551.6,372.9z" fill="#f01c1c"/>
<path d="M566.8,369L570.0,367.3" stroke="#f01c1c" stroke-width="1.7"/>
<path d="M574,365.1L568.5,364.7L571.4,369.9z" fill="#f01c1c"/>
<path d="M585.2,367L590.4,367.4" stroke="#f01c1c" stroke-width="1.7"/>
<path d="M595,367.7L590.6,364.4L590.2,370.4z" fill="#f01c1c"/>
<path d="M605.9,365.5L611.2,362.3" stroke="#f01c1c" stroke-width="1.7"/>
<path d="M615.2,360L609.7,359.8L612.8,364.9z" fill="#f01c1c"/>
<path d="M605.3,372.1L610.8,373.9" stroke="#f01c1c" stroke-width="1.7"/>
<path d="M615.2,375.4L611.8,371.1L609.9,376.8z" fill="#f01c1c"/>
<path d="M526.7,406.8L533.4,405.6" stroke="#f01c1c" stroke-width="1.7"/>
<path d="M537.9,404.8L532.8,402.7L533.9,408.6z" fill="#f01c1c"/>
<path d="M549,406.1L554.0,408.3" stroke="#f01c1c" stroke-width="1.7"/>
<path d="M558.2,410.1L555.2,405.5L552.8,411.0z" fill="#f01c1c"/>
<path d="M569.4,409.4L573.3,409.1" stroke="#f01c1c" stroke-width="1.7"/>
<path d="M577.9,408.8L573.1,406.1L573.5,412.1z" fill="#f01c1c"/>
<path d="M588.4,409.4L593.4,409.9" stroke="#f01c1c" stroke-width="1.7"/>
<path d="M598,410.3L593.7,406.9L593.1,412.9z" fill="#f01c1c"/>
<path d="M609.4,407.3L614.8,405.3" stroke="#f01c1c" stroke-width="1.7"/>
<path d="M619.1,403.7L613.7,402.5L615.8,408.1z" fill="#f01c1c"/>
<path d="M608.8,415.4L614.1,417.0" stroke="#f01c1c" stroke-width="1.7"/>
<path d="M618.5,418.3L615.0,414.1L613.2,419.9z" fill="#f01c1c"/>
<circle cx="519.5" cy="369.0" r="3.9" fill="#f47a7a" stroke="#8e7a62" stroke-width="0.7"/><path d="M519.7,367.7A1.5,1.5 0 1,0 519.7,370.3M520.9,367.1V370.6" fill="none" stroke="#fff" stroke-width="0.7"/>
<circle cx="542.5" cy="369.0" r="3.9" fill="#f47a7a" stroke="#8e7a62" stroke-width="0.7"/><path d="M542.7,367.7A1.5,1.5 0 1,0 542.7,370.3M543.9,367.1V370.6" fill="none" stroke="#fff" stroke-width="0.7"/>
<circle cx="562.2" cy="371.3" r="3.9" fill="#f47a7a" stroke="#8e7a62" stroke-width="0.7"/><path d="M562.4,370.0A1.5,1.5 0 1,0 562.4,372.6M563.6,369.4V372.9" fill="none" stroke="#fff" stroke-width="0.7"/>
<circle cx="579.9" cy="365.7" r="3.9" fill="#f47a7a" stroke="#8e7a62" stroke-width="0.7"/><path d="M580.1,364.4A1.5,1.5 0 1,0 580.1,367.0M581.3,363.8V367.3" fill="none" stroke="#fff" stroke-width="0.7"/>
<circle cx="600.4" cy="368.3" r="3.9" fill="#f47a7a" stroke="#8e7a62" stroke-width="0.7"/><path d="M600.6,367.0A1.5,1.5 0 1,0 600.6,369.6M601.8,366.4V369.9" fill="none" stroke="#fff" stroke-width="0.7"/>
<circle cx="620.7" cy="359.0" r="3.9" fill="#f47a7a" stroke="#8e7a62" stroke-width="0.7"/><path d="M620.9,357.7A1.5,1.5 0 1,0 620.9,360.3M622.1,357.1V360.6" fill="none" stroke="#fff" stroke-width="0.7"/>
<circle cx="620.7" cy="375.9" r="3.9" fill="#f47a7a" stroke="#8e7a62" stroke-width="0.7"/><path d="M620.9,374.6A1.5,1.5 0 1,0 620.9,377.2M622.1,374.0V377.5" fill="none" stroke="#fff" stroke-width="0.7"/>
<circle cx="631.6" cy="354.6" r="3.9" fill="#f47a7a" stroke="#8e7a62" stroke-width="0.7"/><path d="M631.8,353.3A1.5,1.5 0 1,0 631.8,355.9M633.0,352.7V356.2" fill="none" stroke="#fff" stroke-width="0.7"/>
<circle cx="631.6" cy="370.5" r="3.9" fill="#f47a7a" stroke="#8e7a62" stroke-width="0.7"/><path d="M631.8,369.2A1.5,1.5 0 1,0 631.8,371.8M633.0,368.6V372.1" fill="none" stroke="#fff" stroke-width="0.7"/>
<circle cx="520.8" cy="405.5" r="3.9" fill="#f47a7a" stroke="#8e7a62" stroke-width="0.7"/><path d="M521.0,404.2A1.5,1.5 0 1,0 521.0,406.8M522.2,403.6V407.1" fill="none" stroke="#fff" stroke-width="0.7"/>
<circle cx="544.0" cy="405.2" r="3.9" fill="#f47a7a" stroke="#8e7a62" stroke-width="0.7"/><path d="M544.2,403.9A1.5,1.5 0 1,0 544.2,406.5M545.4,403.3V406.8" fill="none" stroke="#fff" stroke-width="0.7"/>
<circle cx="564.8" cy="410.7" r="3.9" fill="#f47a7a" stroke="#8e7a62" stroke-width="0.7"/><path d="M565.0,409.4A1.5,1.5 0 1,0 565.0,412.0M566.2,408.8V412.3" fill="none" stroke="#fff" stroke-width="0.7"/>
<circle cx="582.5" cy="409.2" r="3.9" fill="#f47a7a" stroke="#8e7a62" stroke-width="0.7"/><path d="M582.7,407.9A1.5,1.5 0 1,0 582.7,410.5M583.9,407.3V410.8" fill="none" stroke="#fff" stroke-width="0.7"/>
<circle cx="604.0" cy="411.0" r="3.9" fill="#f47a7a" stroke="#8e7a62" stroke-width="0.7"/><path d="M604.2,409.7A1.5,1.5 0 1,0 604.2,412.3M605.4,409.1V412.6" fill="none" stroke="#fff" stroke-width="0.7"/>
<circle cx="624.3" cy="401.9" r="3.9" fill="#f47a7a" stroke="#8e7a62" stroke-width="0.7"/><path d="M624.5,400.6A1.5,1.5 0 1,0 624.5,403.2M625.7,400.0V403.5" fill="none" stroke="#fff" stroke-width="0.7"/>
<circle cx="623.9" cy="418.7" r="3.9" fill="#f47a7a" stroke="#8e7a62" stroke-width="0.7"/><path d="M624.1,417.4A1.5,1.5 0 1,0 624.1,420.0M625.3,416.8V420.3" fill="none" stroke="#fff" stroke-width="0.7"/>
<circle cx="633.3" cy="409.3" r="3.9" fill="#f47a7a" stroke="#8e7a62" stroke-width="0.7"/><path d="M633.5,408.0A1.5,1.5 0 1,0 633.5,410.6M634.7,407.4V410.9" fill="none" stroke="#fff" stroke-width="0.7"/>
<circle cx="631.7" cy="386.6" r="3.9" fill="#f47a7a" stroke="#8e7a62" stroke-width="0.7"/><path d="M631.9,385.3A1.5,1.5 0 1,0 631.9,387.9M633.1,384.7V388.2" fill="none" stroke="#fff" stroke-width="0.7"/>
<circle cx="631.7" cy="428.7" r="3.9" fill="#f47a7a" stroke="#8e7a62" stroke-width="0.7"/><path d="M631.9,427.4A1.5,1.5 0 1,0 631.9,430.0M633.1,426.8V430.3" fill="none" stroke="#fff" stroke-width="0.7"/>
<path d="M530,373L533,371L536,372L539,369L542,366" fill="none" stroke="#333" stroke-width="0.6"/>
<path d="M547,364L550,362L553,363L556,361L560,362" fill="none" stroke="#333" stroke-width="0.6"/>
<path d="M566,374L569,372L572,374L575,371L578,372" fill="none" stroke="#333" stroke-width="0.6"/>
<path d="M570,400L573,402L576,401L579,403L583,402" fill="none" stroke="#333" stroke-width="0.6"/>
<path d="M545,412L548,414L551,413L554,415L557,413" fill="none" stroke="#333" stroke-width="0.6"/>
<path d="M556,417L559,419L563,418" fill="none" stroke="#333" stroke-width="0.6"/>
<g transform="translate(513,352) rotate(70) scale(0.65)" stroke="#333" stroke-width="0.45" fill="#222"><path d="M0,0L-4,-2M0,0L3,-3M0,0L1,4M3,-3L6,-3" fill="none"/><circle cx="-4" cy="-2" r="0.8"/><circle cx="6" cy="-3" r="0.7"/><circle cx="1" cy="4" r="0.8"/></g>
<g transform="translate(513,421) rotate(70) scale(0.65)" stroke="#333" stroke-width="0.45" fill="#222"><path d="M0,0L-4,-2M0,0L3,-3M0,0L1,4M3,-3L6,-3" fill="none"/><circle cx="-4" cy="-2" r="0.8"/><circle cx="6" cy="-3" r="0.7"/><circle cx="1" cy="4" r="0.8"/></g>
<path d="M518.8,444.8V449.3H587.6V444.8M553.3,449.3V453" fill="none" stroke="#5cb85c" stroke-width="0.9"/>
<path d="M587.6,444.8V449.3H622.7V444.8M604.7,449.3V453" fill="none" stroke="#666" stroke-width="0.9"/>
<text x="553" y="461.8" font-size="5.6" text-anchor="middle" fill="#333">PDA/PEI-coated PA</text>
<text x="553" y="468" font-size="5.6" text-anchor="middle" fill="#333">nanochannels</text>
<text x="604.7" y="461.8" font-size="5.6" text-anchor="middle" fill="#333">Polysulfone</text>
<text x="604.7" y="468" font-size="5.6" text-anchor="middle" fill="#333">porous substrate</text>
</svg></body></html>
